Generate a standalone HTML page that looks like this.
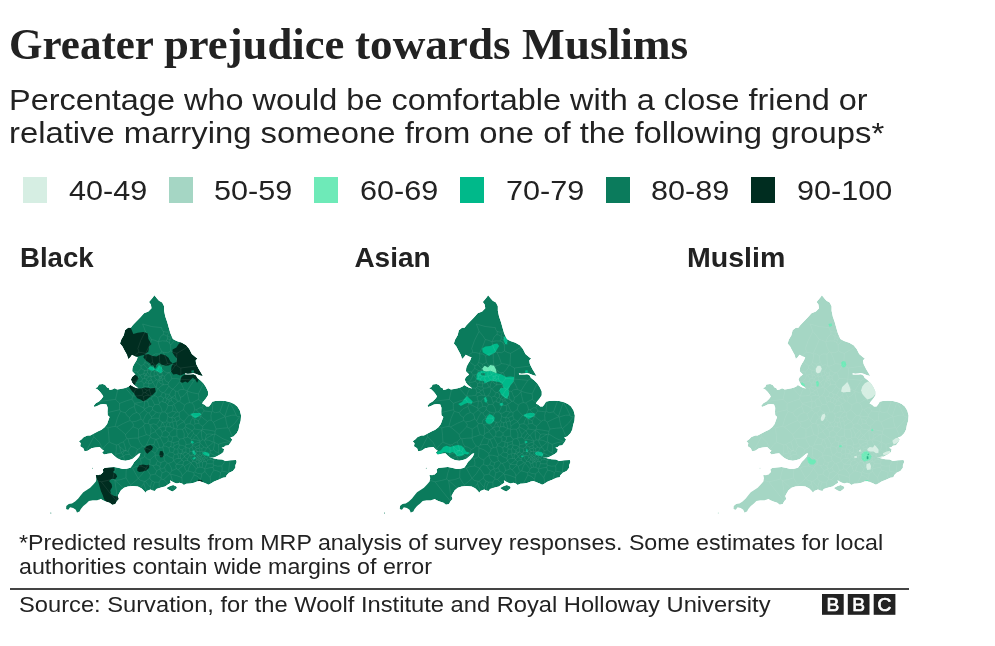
<!DOCTYPE html>
<html lang="en"><head><meta charset="utf-8"><title>Greater prejudice towards Muslims</title>
<style>
html,body{margin:0;padding:0;background:#fff;}
body{width:995px;height:646px;position:relative;overflow:hidden;color:#222222;font-family:"Liberation Sans",Arial,sans-serif;}
.tx{position:absolute;display:block;white-space:nowrap;transform-origin:0 0;margin:0;}
h1,p{margin:0;padding:0;font:inherit;}
.sw{position:absolute;top:176.6px;width:24px;height:26.3px;}
.maps{position:absolute;left:0;top:0;}
.rule{position:absolute;left:9.5px;top:588.45px;width:899.4px;height:1.1px;background:#444;}
.bbc{position:absolute;left:822.3px;top:594.1px;}
</style></head><body>
<h1><span id="t1" class="tx" style="left:8.60px;top:20.24px;font-family:'Liberation Serif','Times New Roman',serif;font-weight:bold;font-size:43.5px;line-height:48.15px;transform:scaleX(0.989)">Greater</span>
<span id="t2" class="tx" style="left:164.30px;top:20.24px;font-family:'Liberation Serif','Times New Roman',serif;font-weight:bold;font-size:43.5px;line-height:48.15px;transform:scaleX(1.027)">prejudice</span>
<span id="t3" class="tx" style="left:354.80px;top:20.24px;font-family:'Liberation Serif','Times New Roman',serif;font-weight:bold;font-size:43.5px;line-height:48.15px;transform:scaleX(1.0385)">towards</span>
<span id="t4" class="tx" style="left:521.90px;top:20.24px;font-family:'Liberation Serif','Times New Roman',serif;font-weight:bold;font-size:43.5px;line-height:48.15px;transform:scaleX(1.042)">Muslims</span>
</h1>
<p><span id="s1" class="tx" style="left:9.00px;top:84.10px;font-family:'Liberation Sans',Arial,sans-serif;font-weight:normal;font-size:29.5px;line-height:32.95px;transform:scaleX(1.1)">Percentage who would be comfortable with a close friend or</span>
<span id="s2" class="tx" style="left:9.00px;top:116.60px;font-family:'Liberation Sans',Arial,sans-serif;font-weight:normal;font-size:29.5px;line-height:32.95px;transform:scaleX(1.112)">relative marrying someone from one of the following groups*</span>
</p>
<p><span id="f1" class="tx" style="left:19.10px;top:530.69px;font-family:'Liberation Sans',Arial,sans-serif;font-weight:normal;font-size:22px;line-height:24.57px;transform:scaleX(1.0553)">*Predicted results from MRP analysis of survey responses. Some estimates for local</span>
<span id="f2" class="tx" style="left:18.60px;top:554.89px;font-family:'Liberation Sans',Arial,sans-serif;font-weight:normal;font-size:22px;line-height:24.57px;transform:scaleX(1.0553)">authorities contain wide margins of error</span>
</p>
<span id="sr" class="tx" style="left:18.60px;top:592.69px;font-family:'Liberation Sans',Arial,sans-serif;font-weight:normal;font-size:22px;line-height:24.57px;transform:scaleX(1.077)">Source: Survation, for the Woolf Institute and Royal Holloway University</span>
<div id="m1" class="tx" style="left:20.40px;top:242.26px;font-family:'Liberation Sans',Arial,sans-serif;font-weight:bold;font-size:28px;line-height:31.28px;transform:scaleX(0.985)">Black</div>
<div id="m2" class="tx" style="left:354.40px;top:242.26px;font-family:'Liberation Sans',Arial,sans-serif;font-weight:bold;font-size:28px;line-height:31.28px;transform:scaleX(1.0)">Asian</div>
<div id="m3" class="tx" style="left:686.60px;top:242.26px;font-family:'Liberation Sans',Arial,sans-serif;font-weight:bold;font-size:28px;line-height:31.28px;transform:scaleX(1.02)">Muslim</div>
<div id="l0" class="tx" style="left:68.60px;top:174.86px;font-family:'Liberation Sans',Arial,sans-serif;font-weight:normal;font-size:28px;line-height:31.28px;transform:scaleX(1.092)">40-49</div>
<div id="l1" class="tx" style="left:214.30px;top:174.86px;font-family:'Liberation Sans',Arial,sans-serif;font-weight:normal;font-size:28px;line-height:31.28px;transform:scaleX(1.092)">50-59</div>
<div id="l2" class="tx" style="left:360.00px;top:174.86px;font-family:'Liberation Sans',Arial,sans-serif;font-weight:normal;font-size:28px;line-height:31.28px;transform:scaleX(1.092)">60-69</div>
<div id="l3" class="tx" style="left:505.70px;top:174.86px;font-family:'Liberation Sans',Arial,sans-serif;font-weight:normal;font-size:28px;line-height:31.28px;transform:scaleX(1.092)">70-79</div>
<div id="l4" class="tx" style="left:651.40px;top:174.86px;font-family:'Liberation Sans',Arial,sans-serif;font-weight:normal;font-size:28px;line-height:31.28px;transform:scaleX(1.092)">80-89</div>
<div id="l5" class="tx" style="left:797.10px;top:174.86px;font-family:'Liberation Sans',Arial,sans-serif;font-weight:normal;font-size:28px;line-height:31.28px;transform:scaleX(1.092)">90-100</div>
<div class="sw" style="left:22.9px;background:#d6eee3"></div>
<div class="sw" style="left:168.6px;background:#a5d6c4"></div>
<div class="sw" style="left:314.3px;background:#6eeab8"></div>
<div class="sw" style="left:460.0px;background:#00b98a"></div>
<div class="sw" style="left:605.7px;background:#0b7b5c"></div>
<div class="sw" style="left:751.4px;background:#002d20"></div>
<svg class="maps" width="995" height="646" viewBox="0 0 995 646"><defs><clipPath id="land"><polygon points="154.4,295.3 157.2,298.8 159.0,300.7 162.2,302.6 164.1,306.3 164.1,310.7 165.3,316.4 167.2,322.0 168.8,327.7 170.4,333.3 172.9,339.0 176.6,340.9 181.7,342.8 186.1,345.3 189.2,349.0 191.7,354.1 195.5,357.2 197.4,358.5 195.5,360.4 196.1,364.1 198.6,369.1 200.9,372.7 202.8,376.1 199.6,375.2 195.9,373.7 193.3,372.9 190.8,373.4 187.7,373.7 185.2,373.3 185.2,374.4 190.8,374.6 193.5,374.2 196.0,375.6 197.1,377.7 200.3,380.2 203.4,383.3 205.9,387.1 208.0,391.5 208.0,395.3 205.9,398.4 203.4,401.6 202.1,403.4 204.6,404.7 206.5,406.6 209.0,406.6 210.9,404.1 212.2,401.8 215.3,400.9 220.4,400.7 225.4,400.9 230.4,402.2 234.2,404.1 237.3,406.6 239.8,410.4 241.1,415.4 240.7,420.7 239.4,425.1 238.6,429.4 236.7,433.2 233.5,436.4 230.4,437.6 232.3,439.5 231.0,442.0 228.5,445.2 225.4,445.8 224.1,447.0 221.6,447.7 224.1,448.9 223.5,452.1 221.0,453.9 217.8,455.8 215.3,457.1 212.8,457.7 209.0,457.1 214.1,458.5 217.8,459.2 222.2,459.6 225.4,460.9 230.4,460.2 236.1,460.0 236.7,462.1 235.4,465.3 235.4,467.8 232.9,470.9 229.1,472.8 226.6,475.3 226.0,477.2 222.9,477.8 218.5,479.7 214.1,481.6 210.9,483.5 208.4,484.7 205.9,483.5 202.8,482.2 199.6,481.0 197.1,481.6 194.0,482.8 190.2,483.5 186.4,483.8 183.9,485.1 182.0,483.5 179.5,482.8 177.0,483.5 174.5,482.8 172.0,481.6 170.1,480.3 170.7,482.8 167.6,484.7 165.1,486.6 161.9,487.2 159.4,487.9 156.3,489.1 155.0,491.0 152.5,490.4 150.5,489.6 146.7,490.9 145.5,492.8 144.2,490.9 141.7,488.4 137.9,486.5 132.9,485.9 127.9,486.5 124.1,487.8 121.0,490.3 119.1,493.4 117.8,495.9 118.8,499.1 116.6,501.6 115.3,504.1 112.2,504.7 109.7,502.8 105.9,501.6 102.8,500.3 100.9,499.1 97.1,500.3 92.7,500.3 88.9,501.0 86.4,503.5 83.3,506.0 80.8,509.1 79.5,511.6 77.0,512.6 75.8,509.7 73.2,507.9 70.1,507.2 68.2,509.7 66.1,509.1 66.3,506.0 68.8,504.1 72.0,503.5 75.1,501.6 78.3,498.4 80.8,495.3 83.3,492.2 86.4,490.3 90.2,487.8 93.3,484.6 95.9,481.5 96.5,478.3 95.9,474.9 98.4,475.2 100.9,474.6 103.4,472.1 102.8,469.5 104.6,467.9 109.0,467.4 114.1,467.0 119.1,467.9 122.9,468.9 126.6,468.7 130.4,467.7 132.3,465.2 134.2,462.0 136.7,459.5 139.2,456.4 140.5,453.2 138.6,453.8 135.4,456.4 132.3,458.9 129.1,460.1 125.4,460.8 121.0,460.1 117.2,458.2 114.1,455.7 111.6,453.2 107.8,453.8 104.0,454.5 102.1,452.6 104.0,450.7 102.1,449.4 99.6,446.9 95.2,447.6 91.5,448.2 87.7,450.7 84.5,451.3 83.3,448.2 80.2,446.3 80.8,443.2 78.9,441.3 81.4,439.4 83.9,436.9 87.7,435.6 90.2,435.4 93.9,433.5 97.7,431.6 101.5,429.7 104.6,427.2 107.1,424.0 108.4,420.3 109.6,417.1 107.7,415.3 107.5,412.1 107.7,407.7 106.5,404.6 103.3,403.9 100.2,404.6 97.7,405.8 94.5,407.1 93.7,405.8 95.8,403.3 98.9,401.4 101.5,398.9 103.3,396.4 102.1,394.5 100.2,392.0 97.7,389.5 95.2,388.2 97.7,387.0 98.9,384.5 102.7,384.1 105.2,385.1 107.1,387.6 109.0,388.2 109.6,390.1 112.1,389.5 114.6,388.2 117.2,389.5 120.3,388.9 124.1,388.2 126.6,387.6 128.8,386.4 130.4,385.1 132.9,386.6 135.4,387.7 138.5,388.5 136.0,386.4 134.1,385.1 132.2,382.6 131.0,379.4 132.2,376.9 135.4,374.4 134.1,373.2 132.2,371.3 132.4,368.5 132.9,366.6 134.5,363.5 136.4,360.4 137.7,357.2 135.2,356.6 132.0,354.7 130.2,357.2 128.3,359.1 127.0,354.7 124.5,350.3 122.6,346.5 120.1,343.4 121.4,339.6 123.9,335.2 125.1,330.2 128.3,327.7 130.8,327.7 132.7,325.2 135.8,322.0 140.2,317.6 144.0,313.2 148.4,311.4 151.5,308.2 150.9,304.4 149.0,301.9 152.8,297.5"/><polygon points="166.3,487.9 170.1,486.0 173.2,485.1 176.4,486.6 177.0,487.9 175.1,489.7 172.6,491.6 170.1,490.4 167.6,489.1"/><rect x="40" y="460" width="60" height="60"/></clipPath></defs>
<g transform="translate(0.00,0)" clip-path="url(#land)"><polygon points="154.4,295.3 157.2,298.8 159.0,300.7 162.2,302.6 164.1,306.3 164.1,310.7 165.3,316.4 167.2,322.0 168.8,327.7 170.4,333.3 172.9,339.0 176.6,340.9 181.7,342.8 186.1,345.3 189.2,349.0 191.7,354.1 195.5,357.2 197.4,358.5 195.5,360.4 196.1,364.1 198.6,369.1 200.9,372.7 202.8,376.1 199.6,375.2 195.9,373.7 193.3,372.9 190.8,373.4 187.7,373.7 185.2,373.3 185.2,374.4 190.8,374.6 193.5,374.2 196.0,375.6 197.1,377.7 200.3,380.2 203.4,383.3 205.9,387.1 208.0,391.5 208.0,395.3 205.9,398.4 203.4,401.6 202.1,403.4 204.6,404.7 206.5,406.6 209.0,406.6 210.9,404.1 212.2,401.8 215.3,400.9 220.4,400.7 225.4,400.9 230.4,402.2 234.2,404.1 237.3,406.6 239.8,410.4 241.1,415.4 240.7,420.7 239.4,425.1 238.6,429.4 236.7,433.2 233.5,436.4 230.4,437.6 232.3,439.5 231.0,442.0 228.5,445.2 225.4,445.8 224.1,447.0 221.6,447.7 224.1,448.9 223.5,452.1 221.0,453.9 217.8,455.8 215.3,457.1 212.8,457.7 209.0,457.1 214.1,458.5 217.8,459.2 222.2,459.6 225.4,460.9 230.4,460.2 236.1,460.0 236.7,462.1 235.4,465.3 235.4,467.8 232.9,470.9 229.1,472.8 226.6,475.3 226.0,477.2 222.9,477.8 218.5,479.7 214.1,481.6 210.9,483.5 208.4,484.7 205.9,483.5 202.8,482.2 199.6,481.0 197.1,481.6 194.0,482.8 190.2,483.5 186.4,483.8 183.9,485.1 182.0,483.5 179.5,482.8 177.0,483.5 174.5,482.8 172.0,481.6 170.1,480.3 170.7,482.8 167.6,484.7 165.1,486.6 161.9,487.2 159.4,487.9 156.3,489.1 155.0,491.0 152.5,490.4 150.5,489.6 146.7,490.9 145.5,492.8 144.2,490.9 141.7,488.4 137.9,486.5 132.9,485.9 127.9,486.5 124.1,487.8 121.0,490.3 119.1,493.4 117.8,495.9 118.8,499.1 116.6,501.6 115.3,504.1 112.2,504.7 109.7,502.8 105.9,501.6 102.8,500.3 100.9,499.1 97.1,500.3 92.7,500.3 88.9,501.0 86.4,503.5 83.3,506.0 80.8,509.1 79.5,511.6 77.0,512.6 75.8,509.7 73.2,507.9 70.1,507.2 68.2,509.7 66.1,509.1 66.3,506.0 68.8,504.1 72.0,503.5 75.1,501.6 78.3,498.4 80.8,495.3 83.3,492.2 86.4,490.3 90.2,487.8 93.3,484.6 95.9,481.5 96.5,478.3 95.9,474.9 98.4,475.2 100.9,474.6 103.4,472.1 102.8,469.5 104.6,467.9 109.0,467.4 114.1,467.0 119.1,467.9 122.9,468.9 126.6,468.7 130.4,467.7 132.3,465.2 134.2,462.0 136.7,459.5 139.2,456.4 140.5,453.2 138.6,453.8 135.4,456.4 132.3,458.9 129.1,460.1 125.4,460.8 121.0,460.1 117.2,458.2 114.1,455.7 111.6,453.2 107.8,453.8 104.0,454.5 102.1,452.6 104.0,450.7 102.1,449.4 99.6,446.9 95.2,447.6 91.5,448.2 87.7,450.7 84.5,451.3 83.3,448.2 80.2,446.3 80.8,443.2 78.9,441.3 81.4,439.4 83.9,436.9 87.7,435.6 90.2,435.4 93.9,433.5 97.7,431.6 101.5,429.7 104.6,427.2 107.1,424.0 108.4,420.3 109.6,417.1 107.7,415.3 107.5,412.1 107.7,407.7 106.5,404.6 103.3,403.9 100.2,404.6 97.7,405.8 94.5,407.1 93.7,405.8 95.8,403.3 98.9,401.4 101.5,398.9 103.3,396.4 102.1,394.5 100.2,392.0 97.7,389.5 95.2,388.2 97.7,387.0 98.9,384.5 102.7,384.1 105.2,385.1 107.1,387.6 109.0,388.2 109.6,390.1 112.1,389.5 114.6,388.2 117.2,389.5 120.3,388.9 124.1,388.2 126.6,387.6 128.8,386.4 130.4,385.1 132.9,386.6 135.4,387.7 138.5,388.5 136.0,386.4 134.1,385.1 132.2,382.6 131.0,379.4 132.2,376.9 135.4,374.4 134.1,373.2 132.2,371.3 132.4,368.5 132.9,366.6 134.5,363.5 136.4,360.4 137.7,357.2 135.2,356.6 132.0,354.7 130.2,357.2 128.3,359.1 127.0,354.7 124.5,350.3 122.6,346.5 120.1,343.4 121.4,339.6 123.9,335.2 125.1,330.2 128.3,327.7 130.8,327.7 132.7,325.2 135.8,322.0 140.2,317.6 144.0,313.2 148.4,311.4 151.5,308.2 150.9,304.4 149.0,301.9 152.8,297.5" fill="#0b7b5c"/><polygon points="166.3,487.9 170.1,486.0 173.2,485.1 176.4,486.6 177.0,487.9 175.1,489.7 172.6,491.6 170.1,490.4 167.6,489.1" fill="#0b7b5c"/><circle cx="92.5" cy="468.3" r="0.45" fill="#0b7b5c"/><circle cx="50.8" cy="513.1" r="0.5" fill="#0b7b5c"/><polygon points="130.8,327.7 133.3,334.0 137.7,332.7 143.4,332.1 147.7,333.3 148.4,339.0 151.5,344.0 149.0,346.5 148.4,351.6 144.6,354.7 137.7,356.6 135.2,356.6 132.0,354.7 130.2,357.2 128.3,359.1 127.0,354.7 124.5,350.3 122.6,346.5 120.1,343.4 121.4,339.6 123.9,335.2 125.1,330.2 128.3,327.7" fill="#002d20"/><polygon points="144.6,354.7 148.4,354.1 152.8,356.0 156.5,356.6 160.9,354.1 165.3,355.3 168.5,357.8 170.4,361.6 172.9,363.5 168.5,365.4 165.1,365.8 161.3,364.5 158.8,362.6 156.3,365.1 155.0,368.3 153.1,365.1 151.5,365.4 149.6,362.9 145.9,360.4 143.3,357.2" fill="#002d20"/><polygon points="180.8,341.9 178.3,344.4 176.4,347.5 172.6,349.4 172.4,352.6 174.5,355.7 177.0,358.8 176.4,362.0 173.2,363.2 171.4,367.0 171.1,371.4 173.2,374.5 176.4,373.9 180.2,375.4 183.9,373.9 185.2,373.3 187.7,373.7 190.8,373.4 193.3,372.9 195.9,373.7 199.6,375.2 202.8,376.1 200.9,372.7 198.6,369.1 196.1,364.1 195.5,360.4 197.4,358.5 195.5,357.2 191.7,354.1 189.2,349.0 186.1,345.3 181.7,342.8" fill="#002d20"/><polygon points="185.2,374.4 190.8,374.6 193.5,374.2 196.0,375.6 197.1,377.7 198.4,380.2 197.1,382.7 195.2,379.6 192.7,377.7 190.2,380.2 187.7,382.7 185.2,381.5 182.7,382.7 180.2,382.1 180.8,378.3 182.7,375.8" fill="#002d20"/><polygon points="132.2,376.9 134.7,374.4 137.3,376.3 138.5,378.8 136.6,381.3 135.4,383.8 134.1,385.1 132.2,382.6 131.0,379.4" fill="#002d20"/><polygon points="128.8,386.4 130.4,385.1 132.9,386.6 135.4,387.7 138.5,388.5 141.7,388.2 145.4,387.4 150.5,388.2 155.0,387.7 155.7,391.5 153.0,394.5 149.8,397.0 146.7,399.5 143.5,401.4 140.4,399.5 137.3,398.3 135.4,395.8 134.1,393.3 132.2,391.4 130.4,388.9" fill="#002d20"/><polygon points="104.6,467.9 109.0,467.4 114.1,467.4 114.7,470.2 112.8,472.1 116.0,473.9 117.2,476.5 115.3,479.0 111.6,479.0 109.0,480.9 111.6,484.0 112.2,487.1 110.3,490.3 110.9,494.0 114.1,495.9 117.8,496.6 118.8,499.1 116.6,501.6 115.3,504.1 112.2,504.7 109.7,502.8 105.9,501.6 104.0,499.1 102.8,495.3 100.9,490.9 99.6,486.5 98.4,482.1 96.5,478.3 95.9,474.9 98.4,475.2 100.9,474.6 103.4,472.1 102.8,469.5" fill="#002d20"/><polygon points="144.2,448.8 146.7,446.3 150.5,445.1 153.0,446.9 151.8,450.1 149.2,452.0 147.4,453.8 145.5,452.0" fill="#002d20"/><polygon points="159.9,451.3 162.4,451.1 163.7,453.8 163.1,457.0 160.6,457.6 159.3,455.1" fill="#002d20"/><polygon points="137.3,468.3 139.2,465.2 143.0,464.5 146.7,465.2 149.2,464.5 149.2,467.7 146.7,470.2 143.0,471.4 139.2,472.1 137.3,470.8" fill="#002d20"/><polygon points="198.0,479.8 201.8,479.9 202.8,482.2 199.6,481.0 198.2,481.3" fill="#002d20"/><polygon points="191.1,370.7 193.6,370.1 194.3,372.6 191.8,373.0" fill="#0b7b5c"/><polygon points="147.9,368.8 150.5,366.3 153.6,367.5 155.5,369.4 157.5,367.0 158.8,365.1 161.9,367.6 162.6,371.4 160.7,373.3 157.5,371.4 154.8,370.0 151.7,370.7" fill="#00b98a"/><polygon points="190.2,414.1 194.0,413.1 200.3,412.9 201.3,414.7 198.4,416.6 195.2,418.5 192.7,416.6" fill="#00b98a"/><polygon points="190.8,441.4 192.7,440.8 194.0,442.4 192.7,443.7 191.2,442.9" fill="#00b98a"/><polygon points="192.1,450.8 194.0,450.2 195.2,452.1 195.9,453.9 194.6,455.2 192.7,453.3" fill="#00b98a"/><polygon points="202.1,452.7 205.3,451.7 208.4,452.7 209.7,454.6 209.0,456.5 206.5,455.8 204.0,454.9" fill="#00b98a"/><polygon points="192.7,457.7 195.2,457.1 195.9,458.3 194.0,459.6 192.5,459.2" fill="#00b98a"/><path d="M74.3 406.1L94.5 402.0L115.5 399.4M88.3 416.1L105.0 413.2L119.7 409.7M115.5 399.4L117.3 401.0L119.5 403.4M119.7 409.7L119.5 406.1L119.5 403.4M115.5 399.4L117.7 389.9L118.6 381.2M120.5 411.2L119.7 409.7M120.5 411.2L117.4 418.2L115.1 426.4M115.1 426.4L111.7 426.9L108.0 427.9M92.2 419.8L100.0 424.1L108.0 427.9M92.2 419.8L93.0 428.6L93.8 436.7M78.1 469.5L85.5 452.5L93.8 436.7M108.0 427.9L108.8 435.2L109.2 442.1M93.8 436.7L99.5 442.6L102.7 449.1M109.2 442.1L106.1 444.7L102.7 449.1M98.6 459.3L100.1 453.7L102.7 449.1M228.6 472.6L229.4 464.5L230.8 456.4M239.7 416.6L234.8 423.2L228.8 428.5M228.8 428.5L231.8 435.8L237.7 442.2M118.6 381.2L126.0 388.8L132.6 396.2M119.5 403.4L126.2 400.9L132.0 399.1M132.6 396.2L132.0 399.1M101.3 481.8L97.4 480.7L94.3 480.3M101.3 481.8L107.9 480.4L112.8 479.1M112.8 479.1L114.0 473.1L116.3 466.5M161.6 327.6L151.8 326.6L142.6 324.0M137.8 348.8L140.7 340.6L145.3 331.3M142.6 324.0L144.2 328.1L145.3 331.3M239.7 416.6L237.1 416.7L236.3 415.2M236.3 415.2L231.7 415.2L225.4 417.0M228.8 428.5L227.8 427.8M227.8 427.8L226.3 422.3L225.4 417.0M227.8 427.8L222.6 428.2L216.2 429.0M225.1 416.7L225.4 417.0M225.1 416.7L218.6 419.5L213.4 422.1M213.4 422.1L214.7 425.2L216.2 429.0M228.6 472.6L225.3 471.7L221.9 471.2M227.4 457.3L224.6 461.9L221.8 465.9M221.8 465.9L222.2 468.6L221.9 471.2M145.5 392.5L147.1 393.8L149.0 395.2M145.5 392.5L143.2 392.9M149.0 395.2L146.0 395.4L143.3 396.6M143.2 392.9L142.1 395.2M143.3 396.6L142.1 395.2M141.9 388.2L140.0 388.1L137.3 387.8M137.3 387.8L134.7 391.0L132.8 396.1M141.9 388.2L142.6 390.8L143.2 392.9M132.8 396.1L137.8 395.9L142.1 395.2M132.6 396.2L132.8 396.1M132.0 399.1L133.6 401.9L134.6 403.3M134.6 403.3L138.5 402.7L144.6 401.1M144.6 401.1L143.7 398.9L143.3 396.6M126.3 467.6L125.1 462.0L123.4 456.2M112.1 460.8L118.1 458.4L123.4 456.2M109.2 442.1L112.3 443.5L116.3 444.9M116.3 444.9L116.3 449.7L115.7 454.5M112.1 460.8L113.7 457.7L115.7 454.5M126.0 477.8L128.5 482.1L130.6 484.9M130.6 484.9L135.2 481.2L138.3 478.4M128.6 466.9L131.5 467.6L132.6 468.2M126.4 467.7L126.0 473.6L126.0 477.8M132.6 468.2L135.1 472.8L138.3 478.4M129.7 417.5L132.4 414.3L136.5 412.5M125.4 412.7L126.8 415.5L129.7 417.5M125.4 412.7L129.1 408.9L134.3 406.4M136.5 412.5L135.1 409.0L134.3 406.4M120.5 411.2L122.6 412.0L125.4 412.7M134.6 403.3L134.7 403.8M134.3 406.4L134.7 403.8M144.7 401.1L144.6 401.1M144.7 401.1L144.3 404.9L143.8 408.1M134.7 403.8L139.2 405.6L143.8 408.1M143.6 425.5L145.0 430.9L146.4 434.7M138.4 429.1L141.4 427.3L143.6 425.5M138.4 429.1L138.5 432.4L138.4 437.4M138.4 437.4L142.7 436.1L146.4 434.7M160.1 437.4L161.3 436.3M160.1 437.4L162.1 441.4L163.6 444.4M163.6 444.4L166.1 442.9L168.0 441.1M168.0 441.1L168.2 438.4L167.2 437.1M167.2 437.1L164.1 437.1L161.3 436.3M133.0 426.8L129.4 430.3L125.5 434.5M133.0 426.8L133.5 424.3L131.8 421.9M130.1 420.5L131.8 421.9M130.1 420.5L123.6 423.3L116.7 427.0M116.7 427.0L121.5 430.9L125.5 434.5M126.9 438.4L128.0 438.8M128.0 438.8L133.1 438.2L138.1 438.0M138.4 437.4L138.1 438.0M138.4 429.1L136.5 428.2L133.0 426.8M126.9 438.4L125.5 435.8L125.5 434.5M115.1 426.4L116.7 427.0M129.7 417.5L129.6 419.1L130.1 420.5M314.4 271.8L246.1 312.6L176.9 353.3M170.8 350.9L174.0 352.6L176.9 353.3M170.8 350.9L170.7 348.2L170.6 345.0M170.6 345.0L176.9 338.0L183.3 331.7M219.8 411.8L223.6 401.5L228.3 389.4M219.8 411.8L222.0 414.4L224.9 416.1M224.9 416.1L226.8 410.1L229.5 402.4M228.3 389.4L227.6 395.6L229.5 402.4M236.3 415.2L233.2 408.7L229.5 402.4M225.1 416.7L224.9 416.1M219.8 411.8L215.2 412.8L212.3 411.1M212.7 400.3L212.7 405.8L212.3 411.1M117.7 377.1L125.8 380.1L134.8 382.1M137.3 387.8L136.8 385.9L135.3 382.5M134.8 382.1L135.3 382.5M137.9 372.0L137.7 373.0L139.4 374.7M111.9 367.8L124.3 369.6L137.9 372.0M134.8 382.1L137.8 378.8L139.4 374.7M137.8 348.8L138.7 350.3L138.8 352.3M151.6 339.6L149.0 346.3L145.7 353.5M145.3 331.3L148.9 335.5L151.6 339.6M138.8 352.3L142.1 352.6L145.7 353.5M138.8 352.3L134.3 355.6L130.5 358.9M137.9 372.0L140.6 368.9L140.9 368.4M143.8 373.4L142.9 374.1M142.9 374.1L140.1 375.0M139.4 374.7L140.1 375.0M143.8 373.4L144.5 370.5M140.9 368.4L143.0 369.5L144.5 370.5M130.5 358.9L135.4 361.7L141.2 365.8M140.9 368.4L141.2 365.8M237.7 442.2L234.5 442.3L230.6 441.7M216.2 429.0L215.2 431.3M215.2 431.3L214.9 433.9M230.6 441.7L223.0 438.8L214.9 433.9M148.6 386.6L147.0 387.0L143.8 386.2M148.6 386.6L149.9 388.2M147.1 390.4L149.3 389.7M147.1 390.4L144.5 388.8L142.8 387.5M142.8 387.5L143.8 386.2M149.3 389.7L149.9 388.2M151.3 395.7L149.0 395.2M151.3 395.7L150.2 392.8L149.3 389.7M145.5 392.5L147.1 390.4M141.9 388.2L142.8 387.5M135.3 382.5L138.7 382.1L141.6 381.3M140.1 375.0L141.8 377.9L142.7 378.8M142.7 378.8L141.6 381.3M143.8 386.2L143.8 383.9M143.8 383.9L143.5 382.8L141.6 381.3M155.5 387.1L152.9 388.0L149.9 388.2M148.6 386.6L149.0 383.8M155.5 387.1L154.5 385.4L153.0 382.5M153.0 382.5L152.8 382.4M152.8 382.4L151.2 383.6L149.0 383.8M128.6 466.9L131.0 461.2L132.3 457.2M141.0 466.0L136.2 466.5L132.6 468.2M132.3 457.2L133.9 456.6L135.3 455.9M141.0 466.0L141.2 462.2L140.1 458.4M140.1 458.4L137.9 456.8L135.3 455.9M128.0 438.8L129.2 443.3L131.2 446.5M131.2 446.5L134.7 447.3L137.4 449.4M138.1 438.0L139.8 442.2L142.4 446.0M137.4 449.4L140.1 448.5L142.4 446.0M126.9 438.4L125.0 440.2L123.5 441.8M116.3 444.9L118.5 444.6M118.5 444.6L120.2 443.2L123.5 441.8M131.2 446.5L129.3 448.2L128.2 451.6M135.3 455.9L136.5 452.5L137.4 449.4M132.3 457.2L130.5 455.5L129.3 454.5M129.3 454.5L128.9 452.5L128.2 451.6M123.4 456.2L123.4 456.1M129.3 454.5L125.5 454.7L123.4 456.1M129.7 491.7L122.0 486.8L114.9 480.4M114.8 480.4L114.9 480.4M114.8 480.4L116.4 491.1L117.1 501.6M130.6 484.9L129.8 488.1L129.7 491.7M126.0 477.8L120.5 479.7L114.9 480.4M112.8 479.1L114.8 480.4M101.3 481.8L108.9 491.6L117.1 501.6M220.8 362.9L200.8 365.4L180.8 368.0M176.9 353.3L176.5 359.0L176.3 365.0M180.8 368.0L178.1 366.6L176.3 365.0M131.8 421.9L136.3 421.2L141.0 419.1M136.5 412.5L138.0 413.1L139.4 414.1M141.0 419.1L140.5 416.3L139.4 414.1M143.6 425.5L145.0 423.3M145.0 423.3L143.2 422.1L143.1 420.7M141.0 419.1L143.1 420.7M176.3 493.4L173.6 484.5L170.5 474.1M176.3 493.4L170.7 486.6L163.8 479.5M170.5 474.1L170.1 473.6M163.8 479.5L167.1 476.4L170.1 473.6M157.7 460.9L158.9 462.0L161.0 462.5M157.7 460.9L155.7 458.1L155.2 455.4M155.2 455.4L155.3 455.2M155.3 455.2L158.9 455.2L164.1 456.6M164.1 456.6L164.2 459.3L164.9 460.9M164.9 460.9L163.4 461.4L161.0 462.5M159.5 466.2L160.5 465.1L161.0 462.5M156.0 464.7L156.8 465.0L159.5 466.2M156.0 464.7L156.5 462.7L157.7 460.9M150.5 434.4L149.8 435.6M150.5 434.4L152.1 433.0L155.4 431.7M149.8 435.6L150.4 437.0M150.4 437.0L152.2 438.4L155.5 439.2M155.4 431.7L158.3 435.5L160.1 437.4M160.1 437.4L158.9 438.7L156.2 439.1M156.2 439.1L155.5 439.2M146.4 445.1L144.6 446.6M146.4 445.1L150.7 444.4L153.8 444.6M153.8 444.6L155.1 445.8L157.4 448.8M144.6 446.6L145.2 447.9M145.2 447.9L150.0 449.7L155.0 453.2M155.0 453.2L156.8 451.4L157.4 448.8M150.4 437.0L148.6 440.1L146.4 445.1M146.4 434.7L148.5 435.2L149.8 435.6M142.4 446.0L144.6 446.6M155.5 439.2L154.7 441.6L153.8 444.6M159.5 447.6L157.4 448.8M159.5 447.6L158.5 444.3L156.2 439.1M140.1 458.4L143.1 457.9L144.6 456.4M144.6 456.4L145.1 452.3L145.2 447.9M155.3 455.2L155.0 453.2M150.0 459.8L152.8 457.1L155.2 455.4M150.0 459.8L147.4 458.9L144.6 456.4M168.2 422.1L170.2 422.5M170.2 422.5L169.6 424.4L170.6 427.1M168.2 422.1L166.6 424.2L166.7 426.9M166.7 426.9L169.0 426.6L170.6 427.1M161.3 436.3L162.2 434.3L162.2 432.8M155.7 430.8L157.2 429.2L158.9 428.7M155.4 431.7L155.7 430.8M160.1 437.4L160.1 437.4M162.2 432.8L160.9 429.5L158.9 428.7M169.6 343.4L169.3 341.4L170.4 339.7M169.6 343.4L168.2 341.7L166.1 341.1M170.4 339.7L168.2 339.0L167.4 339.0M166.1 341.1L167.4 339.0M170.6 345.0L169.6 343.4M172.5 336.8L171.1 336.9L170.4 339.7M172.5 336.8L169.4 336.9L167.6 336.7M167.6 336.7L167.4 339.0M163.0 334.7L164.9 334.9L167.2 336.3M163.0 334.7L163.6 333.2L163.2 331.4M167.2 336.3L168.1 333.8L169.8 331.9M163.2 331.4L165.9 332.1L169.8 331.9M158.4 341.5L160.5 336.7L163.0 334.7M158.4 341.5L162.5 340.9L166.1 341.1M167.6 336.7L167.2 336.3M158.1 341.7L158.4 341.5M161.6 327.6L161.9 329.3L163.2 331.4M151.6 339.6L154.2 340.1L158.1 341.7M189.3 327.7L180.0 329.4L169.8 331.9M215.2 431.3L208.0 430.0L202.0 429.3M213.2 434.4L214.8 434.0M213.2 434.4L209.2 433.9L206.7 434.4M214.9 433.9L214.8 434.0M202.0 429.3L201.5 430.2M206.7 434.4L204.0 431.8L201.5 430.2M213.2 434.4L209.1 436.7L205.3 439.3M206.7 434.4L205.8 436.8L205.3 439.3M213.5 442.1L214.0 441.9M214.8 434.0L213.6 438.1L214.0 441.9M213.5 442.1L208.9 440.3L204.9 439.8M205.3 439.3L204.9 439.8M213.4 422.1L211.3 420.4M212.3 411.1L211.7 411.9M211.7 411.9L210.9 415.6L211.3 420.4M202.0 429.3L203.0 427.9L202.6 426.1M202.6 426.1L205.6 423.8L207.4 421.3M211.3 420.4L209.7 420.1L207.4 421.3M198.4 393.9L192.1 392.7L187.2 391.2M198.4 393.9L203.6 383.0L210.7 371.9M210.7 371.9L202.3 375.6L194.1 380.3M194.1 380.3L190.5 385.6L187.1 391.0M187.1 391.0L187.2 391.2M180.3 379.1L180.9 373.0L180.8 368.0M180.3 379.1L187.5 379.7L194.1 380.3M212.7 400.3L207.4 401.0L202.6 401.7M204.1 411.0L208.0 411.4L211.7 411.9M204.1 411.0L203.7 409.8L202.1 407.9M202.1 407.9L203.3 405.2L202.6 401.7M198.4 393.9L198.9 397.4L198.5 399.4M202.6 401.7L200.5 401.0L198.5 399.4M170.8 350.9L167.6 352.8L163.2 352.2M176.3 365.0L175.3 365.3M175.3 365.3L171.9 364.1L167.6 363.6M167.6 363.6L165.7 357.8L163.2 352.2M158.1 341.7L159.6 347.3L162.0 352.0M163.2 352.2L162.0 352.0M141.2 365.8L142.9 364.9L143.8 364.2M143.8 364.2L144.8 362.6M145.7 353.5L145.9 353.8M144.8 362.6L146.1 357.2L145.9 353.8M159.5 354.1L160.5 352.7L162.0 352.0M159.5 354.1L155.5 353.9L151.9 355.8M145.9 353.8L149.0 354.0L151.9 355.8M213.9 470.1L216.8 470.8L220.7 472.4M220.7 472.4L218.4 485.0L214.9 497.9M213.9 470.1L211.6 473.8L210.2 477.4M210.2 477.4L211.7 487.9L214.9 497.9M221.9 471.2L220.7 472.4M204.9 439.8L204.3 440.0M213.5 442.1L210.9 444.5L207.7 446.8M207.7 446.8L206.2 444.2L204.3 440.0M201.4 430.2L201.4 430.2M201.4 430.2L201.6 435.8L202.4 439.9M201.5 430.2L201.4 430.2M204.3 440.0L202.4 439.9M196.4 435.2L199.0 432.6L201.4 430.2M196.4 435.2L198.1 438.2L200.3 441.2M202.4 439.9L200.3 441.2M218.4 444.3L216.3 443.4L214.4 442.3M218.4 444.3L218.8 448.6L218.4 452.7M214.4 442.3L214.2 445.8L213.3 449.4M218.4 452.7L215.4 451.7L213.3 449.4M230.6 441.7L224.0 442.5L218.4 444.3M214.0 441.9L214.4 442.3M219.6 455.4L218.4 452.7M207.7 446.8L207.5 447.5M210.2 450.3L209.4 448.4L207.5 447.5M210.2 450.3L211.9 450.9L213.3 449.4M217.2 456.5L214.1 455.2L210.2 453.2M210.2 453.2L210.2 450.3M145.3 382.9L146.4 380.8L146.8 379.8M145.3 382.9L147.9 383.1L148.9 383.7M148.9 383.7L148.4 381.2M146.8 379.8L148.4 381.2M146.6 379.1L144.4 378.5M142.7 378.8L144.4 378.5M143.8 383.9L145.3 382.9M146.6 379.1L146.8 379.8M149.0 383.8L148.9 383.7M151.7 380.0L152.8 382.4M151.7 380.0L149.2 380.4L148.4 381.2M148.9 376.9L147.8 377.5L146.6 379.1M150.8 376.3L148.9 376.9M150.8 376.3L151.1 376.3M151.1 376.3L151.6 376.5M151.7 380.0L150.7 378.7L151.6 376.5M150.8 376.3L149.0 374.6L147.6 372.2M151.1 376.3L150.5 373.7L151.3 371.2M147.5 370.1L147.6 370.0M147.6 372.2L147.5 370.1M151.3 371.2L149.4 370.0L147.6 370.0M143.8 364.2L145.3 366.1L147.9 368.8M144.5 370.5L146.4 370.7L147.5 370.1M147.9 368.8L147.6 370.0M185.4 446.6L185.9 444.6M185.4 446.6L182.5 445.4L179.3 445.0M179.7 439.0L178.6 441.3M179.7 439.0L181.4 438.8L183.4 438.4M179.3 445.0L178.9 443.8M178.6 441.3L178.9 443.8M185.9 444.6L185.8 442.3L183.4 438.4M147.4 401.3L144.7 401.1M147.4 401.3L149.1 398.7L151.3 398.9M151.3 395.7L152.2 396.5M151.3 398.9L152.2 396.5M155.5 387.1L156.2 387.4M156.2 387.4L157.5 388.6M152.2 396.5L154.1 395.8M157.5 388.6L156.4 392.8L154.1 395.8M184.2 421.4L184.2 421.6M184.2 421.4L182.6 420.5L180.4 419.1M177.2 426.1L180.4 423.5L184.2 421.6M177.2 426.1L176.4 423.9L176.8 421.4M176.8 421.4L179.0 420.2L180.4 419.1M143.8 408.1L144.4 409.1M139.4 414.1L141.9 411.9L144.4 410.0M144.4 409.1L144.4 410.0M147.4 401.3L148.5 404.1L149.0 406.4M144.4 409.1L147.4 407.4L149.0 406.4M143.1 420.7L145.3 415.8L147.6 412.7M144.4 410.0L147.0 412.1L147.6 412.7M154.5 404.7L152.9 401.2L151.3 398.9M154.5 404.7L153.7 406.4L152.4 407.5M149.0 406.4L151.9 406.4L152.4 407.5M205.0 471.5L202.5 473.0L201.7 474.0M205.0 471.5L207.7 475.1L210.2 477.4M215.6 520.1L207.5 499.0L200.4 479.1M200.4 479.1L201.2 477.3L201.7 474.0M178.9 443.8L176.1 444.7L173.7 446.5M178.6 441.3L175.1 442.3L173.3 442.6M173.3 442.6L174.1 444.9L173.7 446.5M184.8 427.8L185.4 426.9M185.4 426.9L189.0 428.8L192.0 430.6M184.8 427.8L186.0 430.7L188.1 434.5M192.0 430.6L190.2 432.7L188.1 434.5M184.0 437.9L186.2 437.7L187.4 437.0M184.0 437.9L184.3 433.8L182.5 429.3M182.5 429.3L184.8 427.8M188.1 434.5L187.4 437.0M176.8 429.6L176.3 429.1M176.8 429.6L176.8 432.2L177.0 436.0M176.3 429.1L174.2 428.7M177.0 436.0L174.5 436.4L172.7 436.8M174.2 428.7L174.0 428.7M174.0 428.7L171.6 431.1L169.2 433.0M172.7 436.8L171.3 436.8L169.4 435.0M169.4 435.0L169.2 433.0M177.2 426.1L177.2 427.7L176.3 429.1M185.8 424.5L185.0 423.7L184.2 421.6M182.5 429.3L179.4 429.1L176.8 429.6M185.4 426.9L185.8 424.5M179.7 439.0L177.7 437.5L177.0 436.0M184.0 437.9L183.4 438.4M171.1 441.8L171.2 441.8M171.1 441.8L172.7 439.4L172.7 436.8M171.2 441.8L173.3 442.6M165.6 430.5L165.4 430.5L165.9 427.3M166.7 426.9L165.9 427.3M165.6 430.5L166.7 431.2L169.2 433.0M170.6 427.1L172.6 427.9L174.0 428.7M168.0 441.1L170.6 441.6L171.1 441.8M167.2 437.1L167.5 436.1L169.4 435.0M162.2 432.8L163.0 431.4L165.6 430.5M165.1 426.8L162.6 426.7L159.3 427.7M165.1 426.8L163.8 424.7L162.4 422.1M159.3 427.7L160.8 425.9L162.4 422.1M162.4 422.1L162.4 422.1M158.9 428.7L159.0 427.9M159.0 427.9L159.3 427.7M165.9 427.3L165.1 426.8M166.9 420.3L168.2 422.1M166.9 420.3L165.7 422.3L162.4 422.1M159.6 420.0L157.8 423.1L156.2 424.5M159.6 420.0L159.1 418.3M159.1 418.3L155.6 418.1L151.7 418.4M156.2 424.5L153.3 423.8L150.5 424.7M151.7 418.4L149.1 419.9L148.4 423.4M148.4 423.4L149.8 424.5M149.8 424.5L150.5 424.7M162.4 422.1L160.7 421.4L159.6 420.0M159.0 427.9L157.5 426.0L156.2 424.5M155.7 430.8L152.9 428.0L150.5 424.7M145.0 423.3L146.9 423.7L148.4 423.4M150.5 434.4L151.0 429.8L149.8 424.5M146.9 375.5L144.9 376.0M146.9 375.5L146.2 373.9M146.2 373.9L145.7 373.9M145.7 373.9L144.9 375.9M144.9 375.9L144.9 376.0M144.4 378.5L144.9 376.0M148.9 376.9L146.9 375.5M147.6 372.2L146.2 373.9M143.8 373.4L145.7 373.9M142.9 374.1L144.9 375.9M213.9 470.1L213.0 467.3M205.0 471.5L204.8 469.0M204.8 469.0L209.1 467.9L213.0 467.3M221.8 465.9L217.7 466.2L213.7 465.2M213.7 465.2L213.0 467.3M153.0 382.5L154.9 380.5L156.7 379.7M151.6 376.5L154.4 376.0M156.7 379.7L154.8 377.9L154.8 376.1M154.4 376.0L154.8 376.1M156.2 387.4L156.9 383.9L158.3 380.8M156.7 379.7L158.0 380.3M158.0 380.3L158.3 380.8M144.8 362.6L146.7 363.1L148.7 364.3M151.9 355.8L152.1 358.6L152.7 362.2M152.7 362.2L150.7 363.5L148.7 364.3M147.9 368.8L149.4 367.3M148.7 364.3L149.0 365.1L149.4 367.3M124.1 450.5L122.4 451.6L121.3 452.4M124.1 450.5L126.1 450.6M126.1 450.6L126.4 450.8M126.4 450.8L124.3 450.9L122.5 454.2M122.5 454.2L121.2 453.0M121.2 453.0L121.3 452.4M119.7 446.7L121.5 448.1L124.1 450.5M119.7 446.7L120.5 450.4L121.3 452.4M118.5 444.6L119.7 446.7M123.5 441.8L124.8 445.7L126.1 450.6M128.2 451.6L126.4 450.8M123.4 456.1L122.5 454.2M115.7 454.5L118.8 453.4L121.2 453.0M162.7 379.0L161.7 378.2M161.7 378.2L159.8 379.0L159.7 380.5M162.7 379.0L162.2 380.2M162.2 380.2L159.7 380.5M157.5 388.6L158.4 388.6M158.7 380.9L160.2 383.3L163.4 384.8M158.3 380.8L158.7 380.9M158.4 388.6L160.7 386.3L163.4 384.8M162.2 380.2L162.8 382.5L163.4 384.8M159.7 380.5L158.7 380.9M163.4 384.8L163.4 384.8M187.1 391.0L184.9 389.9L183.8 389.4M180.3 379.1L180.2 379.1M180.2 379.1L180.0 381.4M183.8 389.4L182.1 385.3L180.0 381.4M171.7 378.7L170.7 380.2L168.6 382.5M171.7 378.7L171.1 376.1L169.5 372.7M168.6 382.5L165.4 380.7L164.7 378.6M169.0 372.7L166.4 374.2L164.7 376.4M169.0 372.7L169.5 372.7M164.7 376.4L164.7 378.6M180.2 379.1L175.7 378.6L171.7 378.7M175.3 365.3L172.5 369.4L169.5 372.7M168.1 384.6L166.1 384.6L163.4 384.8M168.1 384.6L168.6 382.5M162.7 379.0L164.7 378.6M154.1 395.8L156.0 396.1L157.8 397.6M157.8 397.6L158.8 396.8L160.6 396.3M158.4 388.6L160.3 391.5L162.6 392.6M160.6 396.3L161.5 394.4L162.6 392.6M183.8 389.4L180.0 389.7L177.9 391.4M180.0 381.4L176.5 385.4L173.1 389.0M177.9 391.4L175.7 391.1M173.1 389.0L174.0 389.9L175.7 391.1M188.9 415.3L186.3 412.9L183.5 409.6M183.5 409.6L181.5 410.9L179.2 412.4M184.2 421.4L186.7 418.0L188.9 415.3M180.4 419.1L179.3 417.0L179.2 415.6M179.2 415.6L179.3 414.1L179.2 412.4M175.7 421.2L175.9 419.9L174.2 418.0M175.7 421.2L174.0 421.3L172.7 422.3M172.7 422.3L172.1 422.0M172.1 422.0L172.3 419.4L171.5 417.3M174.2 418.0L172.0 417.2M171.5 417.3L172.0 417.2M179.2 415.6L176.1 417.0L174.2 418.0M176.8 421.4L175.7 421.2M174.2 428.7L173.2 424.7L172.7 422.3M170.2 422.5L172.1 422.0M167.9 416.0L169.2 417.4L171.5 417.3M167.9 416.0L167.6 417.7L166.9 420.3M151.5 416.7L153.5 415.5L156.4 412.0M151.5 416.7L150.0 414.9L149.2 412.9M149.2 412.9L151.5 411.0L152.6 409.2M156.4 412.0L153.8 410.8L152.6 409.2M151.7 418.4L151.5 416.7M161.2 412.8L158.3 412.9L156.4 412.0M161.2 412.8L159.6 415.3L159.1 418.3M147.6 412.7L149.2 412.9M152.4 407.5L152.6 409.2M178.7 447.9L179.3 445.0M178.7 447.9L180.4 449.4L182.1 449.9M185.4 446.6L185.6 447.1M185.6 447.1L184.2 448.3L182.1 449.9M194.7 471.9L197.7 473.3L201.7 474.0M194.7 471.9L193.9 472.7M200.4 479.1L197.8 476.5L194.1 475.0M194.1 475.0L193.9 472.7M194.1 475.0L188.9 484.7L184.2 495.1M170.5 474.1L176.2 475.5L181.8 477.6M184.2 495.1L182.6 487.0L181.8 477.6M159.2 482.1L157.4 482.2L154.7 482.1M159.2 482.1L159.2 510.5L159.8 539.8M154.7 482.1L153.1 486.3L152.2 492.5M161.6 479.2L160.3 479.9L159.2 482.1M163.8 479.5L161.6 479.2M130.2 498.9L137.2 491.2L143.9 483.6M143.9 483.6L149.7 500.8L155.4 517.7M162.1 472.8L160.9 471.0L159.9 469.0M159.9 469.0L158.6 469.6L156.7 470.8M160.9 478.0L158.3 476.3L155.2 474.1M160.9 478.0L161.5 475.0L162.1 472.8M156.7 470.8L155.8 473.0L155.2 474.1M159.9 469.0L160.3 468.1M159.5 466.2L160.3 468.1M156.0 464.7L155.0 465.2L152.8 465.5M156.7 470.8L154.8 468.4L152.8 465.5M150.0 459.8L150.2 461.9L149.5 464.6M149.5 464.6L151.2 465.0L152.8 465.5M152.2 492.5L151.0 489.6L150.4 487.1M154.7 482.1L152.5 481.0M150.4 487.1L151.3 483.0L152.5 481.0M164.4 467.5L165.5 470.1L166.3 471.1M164.4 467.5L166.0 465.0L167.1 463.1M168.7 463.3L171.1 467.4L171.8 470.4M168.7 463.3L167.1 463.1M166.3 471.1L168.0 472.2L170.0 473.4M171.8 470.4L170.8 472.3L170.0 473.4M162.1 472.8L164.4 472.0L166.3 471.1M160.3 468.1L161.9 469.1L164.4 467.5M164.9 460.9L166.0 461.4L167.1 463.1M176.5 464.1L174.9 462.2L173.7 460.7M176.6 464.3L176.5 464.1M176.4 468.6L175.6 465.8L176.6 464.3M176.4 468.6L174.0 469.9L171.8 470.4M173.7 460.7L173.7 460.7M173.7 460.7L171.7 462.3L168.7 463.3M161.6 479.2L160.9 478.0M170.1 473.6L170.0 473.4M181.8 477.6L182.2 475.8M178.3 469.9L181.0 472.4L182.2 475.8M176.4 468.6L178.3 469.9M171.2 441.8L171.1 445.8L169.6 447.2M173.7 446.5L173.4 447.5M173.4 447.5L170.6 446.6L169.6 447.2M194.1 428.9L199.0 429.7L201.4 430.2M194.1 428.9L192.3 430.6M196.4 435.2L195.9 435.3M192.3 430.6L193.2 432.2L193.5 433.4M195.9 435.3L194.1 434.0L193.5 433.4M192.0 430.6L192.3 430.6M187.4 437.0L189.1 437.7L190.1 438.5M193.5 433.4L191.9 435.8L190.1 438.5M196.1 409.9L194.7 409.7M196.1 409.9L198.7 412.2L201.1 415.1M194.7 409.7L193.6 412.1L192.0 415.4M201.1 415.1L200.9 416.2M192.0 415.4L192.4 415.9M192.4 415.9L196.6 416.5L200.8 416.2M200.9 416.2L200.8 416.2M202.1 407.9L200.0 407.7L196.1 409.9M198.5 399.4L194.3 401.5L191.8 402.9M191.8 402.9L193.9 405.4L194.7 409.7M204.1 411.0L202.7 412.6L201.1 415.1M207.4 421.3L203.9 418.8L200.9 416.2M184.7 404.9L187.1 403.2L189.6 402.6M184.7 404.9L182.3 403.6L179.3 401.2M179.3 401.2L180.4 399.9L180.5 397.5M180.5 397.5L184.0 395.6L187.1 391.8M187.1 391.8L188.1 396.7L189.6 402.6M188.9 415.3L190.2 415.4L192.0 415.4M183.5 409.6L183.9 407.7L184.7 404.9M191.8 402.9L189.6 402.6M187.2 391.2L187.1 391.8M177.9 391.4L179.1 394.7L180.5 397.5M185.8 424.5L188.4 423.8L189.9 423.9M192.4 415.9L192.9 417.7M192.9 417.7L191.2 420.2L189.9 423.9M194.1 428.9L194.6 427.3L193.3 425.5M193.3 425.5L191.9 424.3L189.9 423.9M204.8 469.0L204.5 468.6M204.5 468.6L205.6 466.7L206.7 463.7M213.7 465.2L213.3 463.9M206.7 463.7L210.2 463.8L213.3 463.9M210.2 453.2L208.6 454.4M217.2 456.5L216.3 459.0L213.6 460.5M208.6 454.4L208.6 454.7M208.6 454.7L209.5 457.2L211.0 459.6M211.0 459.6L213.6 460.5M213.6 460.5L213.1 463.1L213.3 463.9M207.5 447.5L206.2 448.0M208.6 454.4L206.6 454.1M206.2 448.0L205.9 449.8L204.5 451.2M204.5 451.2L204.8 452.1L206.6 454.1M200.2 441.4L200.0 442.2M200.2 441.4L196.8 440.0L192.7 439.3M200.0 442.2L196.9 442.7L192.5 445.0M192.7 439.3L191.5 439.6M191.5 439.6L191.3 442.6M191.3 442.6L192.5 445.0M206.2 448.0L204.3 447.1M204.3 447.1L202.1 445.3L200.1 443.3M200.3 441.2L200.2 441.4M200.1 443.3L200.0 442.2M195.9 435.3L194.4 437.0L192.7 439.3M190.1 438.5L191.5 439.6M185.9 444.6L189.7 444.0L191.3 442.6M211.0 459.6L208.6 459.8L208.0 459.9M208.6 454.7L207.7 456.7L206.9 458.2M206.9 458.2L208.0 459.9M206.7 463.7L206.3 461.9M208.0 459.9L206.3 461.9M151.3 371.2L153.4 370.1M149.4 367.3L150.4 366.8L153.6 366.9M153.4 370.1L153.4 369.0L153.6 366.9M154.4 376.0L154.0 373.6L154.5 371.3M153.4 370.1L154.5 371.3M152.7 362.2L153.7 363.8L154.7 365.5M154.7 365.5L153.6 366.9M159.5 354.1L159.5 359.8L160.3 365.7M154.7 365.5L158.0 364.6L160.3 365.7M165.5 394.0L164.1 392.6M165.5 394.0L167.9 394.2L169.3 394.6M164.1 392.6L166.6 389.4L168.9 385.9M169.3 394.6L170.7 391.9L172.8 389.0M168.9 385.9L170.4 388.0L172.8 389.0M160.6 396.3L163.1 397.5L163.5 398.4M164.9 397.6L163.5 398.4M164.9 397.6L165.9 396.7L165.5 394.0M162.6 392.6L164.1 392.6M167.0 398.6L168.3 396.6L169.5 395.1M164.9 397.6L167.0 398.6M169.5 395.1L169.3 394.6M168.1 384.6L168.9 385.9M173.1 389.0L172.8 389.0M171.7 397.3L173.4 396.4L175.2 394.8M171.7 397.3L175.1 398.9L177.8 401.5M175.2 394.8L175.9 398.5L178.7 401.2M177.8 401.5L178.7 401.2M169.5 395.1L171.4 397.3M171.4 397.3L171.7 397.3M175.7 391.1L175.3 392.9L175.2 394.8M171.4 400.7L171.2 397.9M171.4 397.3L171.2 397.9M174.5 403.9L173.2 402.1L171.4 400.7M174.5 403.9L176.3 402.9L177.8 401.5M179.3 401.2L178.7 401.2M174.1 404.4L172.2 405.3M174.1 404.4L175.7 408.3L177.7 412.0M172.2 405.3L173.1 407.9L172.3 411.3M172.3 411.3L174.0 411.4L176.2 412.2M177.7 412.0L176.2 412.2M174.5 403.9L174.1 404.4M179.2 412.4L177.7 412.0M166.3 413.1L168.8 413.2L172.3 411.3M167.9 416.0L167.2 414.0L166.3 413.1M172.0 417.2L174.0 414.8L176.2 412.2M172.2 405.3L169.9 405.7L168.0 405.5M166.3 413.1L164.8 412.0M168.0 405.5L166.7 409.2L164.8 412.0M157.8 397.6L158.7 400.9L159.7 403.2M163.5 398.4L162.9 400.2L163.0 402.0M163.0 402.0L161.5 400.9L159.7 403.2M154.5 404.7L156.7 404.4L159.0 404.3M161.2 412.8L162.2 412.1M162.2 412.1L161.3 408.1L159.0 404.3M162.2 412.1L164.8 412.0M159.0 404.3L159.7 403.2M199.9 467.2L202.0 467.4M204.5 468.6L202.0 467.4M194.7 471.9L195.6 470.9L196.2 468.8M199.9 467.2L197.6 467.9M197.6 467.9L196.2 468.8M176.6 464.3L180.7 464.8L183.0 464.5M178.3 469.9L181.0 467.2L183.3 465.3M183.0 464.5L183.3 465.3M150.6 475.1L148.2 471.5L146.1 468.3M150.6 475.1L150.2 475.8L149.7 478.1M149.7 478.1L147.5 479.8L145.3 481.2M146.0 468.3L142.6 473.6L138.3 478.4M146.0 468.3L146.1 468.3M138.3 478.4L140.6 480.4L144.3 481.4M144.3 481.4L145.3 481.2M155.2 474.1L153.8 474.4L150.6 475.1M149.5 464.6L147.7 465.7L146.1 468.3M152.5 481.0L150.4 479.6L149.7 478.1M150.4 487.1L148.1 484.8L145.3 481.2M141.0 466.0L143.9 467.3L146.0 468.3M138.3 478.4L138.3 478.4M143.9 483.6L144.3 481.4M178.7 447.9L177.8 448.7M173.4 447.5L174.5 448.8M177.8 448.7L176.6 449.2L174.5 448.8M177.5 453.8L175.6 454.3L174.4 454.3M178.9 458.5L178.6 457.2L177.5 453.8M173.7 460.7L176.0 458.7L178.9 458.5M173.7 460.7L173.2 458.3M173.2 458.3L173.9 455.5L174.4 454.3M177.8 448.7L178.0 450.9L178.3 453.2M174.5 448.8L173.8 451.2L173.2 452.5M177.5 453.8L178.3 453.2M174.4 454.3L173.2 452.5M168.8 447.7L169.3 449.6L169.7 451.9M168.8 447.7L165.6 446.1L163.4 446.1M163.4 446.1L162.7 446.8M162.7 446.8L163.7 451.3L165.1 455.2M169.7 451.9L169.0 452.7L166.7 454.8M165.1 455.2L166.7 454.8M173.2 452.5L171.6 452.6L169.7 451.9M169.6 447.2L168.8 447.7M163.6 444.4L163.4 446.1M159.5 447.6L161.4 447.8L162.7 446.8M164.1 456.6L165.1 455.2M173.2 458.3L169.0 456.6L166.7 454.8M194.9 423.9L194.7 422.1L193.9 418.9M194.9 423.9L196.8 423.7L199.0 423.3M193.9 418.9L196.3 419.6L198.4 420.7M199.0 423.3L198.4 420.7M192.9 417.7L193.9 418.9M193.3 425.5L194.9 423.9M202.6 426.1L200.7 425.3L199.0 423.3M200.8 416.2L200.2 418.1L198.4 420.7M199.0 463.2L201.2 461.6M199.0 463.2L199.2 464.6L199.9 467.2M202.0 467.4L202.5 465.7L202.4 462.4M201.2 461.6L201.3 461.6M202.4 462.4L201.3 461.6M204.5 451.2L203.3 451.6M203.3 451.6L202.2 453.3L202.7 455.1M206.6 454.1L204.7 456.0M204.7 456.0L202.7 455.1M158.0 380.3L159.5 378.0M161.7 378.2L161.5 377.9M161.5 377.9L159.5 378.0M169.0 372.7L166.2 372.6L163.2 370.4M167.6 363.6L165.1 365.1L161.4 366.2M163.2 370.4L161.6 368.5L161.4 366.2M160.3 365.7L160.3 365.7M161.4 366.2L160.3 365.7M165.4 402.7L167.5 404.5M165.4 402.7L165.9 401.7L167.1 398.9M167.5 404.5L168.5 402.7L169.1 401.3M169.1 401.3L168.7 399.6M167.1 398.9L168.7 399.6M168.0 405.5L167.5 404.5M163.0 402.0L165.4 402.7M167.0 398.6L167.1 398.9M171.4 400.7L169.1 401.3M171.2 397.9L168.7 399.6M184.5 466.4L187.4 464.5L190.5 462.5M184.5 466.4L185.4 469.8L186.9 471.1M187.9 471.0L186.9 471.1M187.9 471.0L189.3 466.8L191.3 463.3M191.3 463.3L191.2 462.8M191.2 462.8L190.5 462.5M182.2 475.8L184.2 473.5L186.9 471.1M183.3 465.3L184.5 466.4M193.9 472.7L191.1 471.8L187.9 471.0M196.2 468.8L193.6 465.6L191.3 463.3M187.5 458.8L187.6 460.5M187.5 458.8L185.2 457.8L184.4 456.3M187.6 460.5L186.1 460.2L183.5 461.6M184.4 456.3L183.7 457.7L181.7 459.3M183.5 461.6L182.0 459.9M182.0 459.9L181.7 459.3M190.5 462.5L188.8 461.1L187.6 460.5M183.0 464.5L183.5 461.6M176.5 464.1L178.9 462.5L182.0 459.9M178.9 458.5L180.8 458.7M180.8 458.7L181.7 459.3M183.1 454.3L183.3 453.4L185.4 452.3M183.1 454.3L180.9 453.6M180.9 453.6L180.8 453.5M180.8 453.5L182.0 453.4L182.2 450.7M182.2 450.7L183.7 452.1L185.4 452.3M188.0 453.6L185.8 452.2M185.8 452.2L185.4 452.3M184.4 456.2L186.9 454.4L188.0 453.6M184.4 456.2L183.1 454.3M184.4 456.2L184.4 456.3M180.8 458.7L180.2 456.2L180.9 453.6M178.3 453.2L180.8 453.5M182.1 449.9L182.2 450.7M185.6 447.1L185.8 447.3M185.8 447.3L186.0 450.2L185.8 452.2M202.0 451.4L200.0 451.6M202.0 451.4L201.8 448.4M201.8 448.4L199.4 447.7M199.7 451.4L200.0 451.6M199.7 451.4L199.8 449.6L199.1 448.3M199.4 447.7L199.1 448.3M200.0 453.9L200.0 451.6M201.5 455.5L200.0 453.9M203.3 451.6L202.0 451.4M201.5 455.5L202.7 455.1M204.3 447.1L201.8 448.4M199.4 445.1L200.1 443.3M199.4 445.1L199.4 447.7M206.9 458.2L205.3 457.7M204.7 456.0L204.7 456.9M205.3 457.7L204.7 456.9M161.7 376.8L159.1 376.2M161.7 376.8L162.4 375.3M162.4 375.3L162.3 375.1M162.3 375.1L160.4 376.0L159.0 376.1M159.0 376.1L159.1 376.2M161.5 377.9L161.7 376.8M159.5 378.0L159.1 376.2M164.7 376.4L162.4 375.3M161.8 372.7L163.2 370.4M161.8 372.7L162.3 375.1M154.8 376.1L155.6 375.6L157.7 374.9M157.7 374.9L159.0 376.1M156.7 371.1L157.6 370.5M156.7 371.1L157.0 372.9L157.7 374.8M157.6 370.5L158.3 371.4L159.5 373.3M157.7 374.8L159.5 373.3M154.5 371.3L156.7 371.1M160.3 365.7L159.1 367.5L157.6 370.5M157.7 374.9L157.7 374.8M161.8 372.7L159.5 373.3M187.5 458.8L188.7 457.2L189.6 455.0M192.6 461.6L192.6 460.7M192.6 461.6L191.2 462.8M192.6 460.7L190.9 458.8L191.0 455.4M189.6 455.0L191.0 455.4M188.0 453.6L188.8 453.7M189.6 455.0L188.8 453.7M197.6 467.9L197.3 466.3L195.8 462.0M199.0 463.2L198.8 463.0M198.8 463.0L197.2 463.6L195.8 462.0M192.6 461.6L195.3 461.5M195.8 462.0L195.3 461.5M206.3 461.9L205.6 461.6M205.3 457.7L204.6 459.3M204.6 459.3L205.6 461.6M202.4 462.4L203.8 461.7M205.6 461.6L203.8 461.7M201.3 460.1L202.9 459.7M201.3 460.1L201.0 459.6M201.0 459.6L202.6 457.9M202.9 459.7L203.2 459.3M203.2 459.3L202.7 457.9M202.7 457.9L202.6 457.9M201.3 461.6L201.3 460.1M203.8 461.7L202.9 459.7M204.6 459.3L203.2 459.3M204.7 456.9L202.7 457.9M201.5 455.5L201.1 456.6M201.1 456.6L202.6 457.9M201.0 459.6L200.4 459.2M201.1 456.6L201.1 456.7M200.4 459.2L201.1 456.7M185.8 447.3L187.0 447.9L189.5 448.4M188.8 453.7L189.8 451.3M189.5 448.4L189.8 451.3M191.0 455.4L191.5 455.3M191.5 455.3L192.9 454.0L194.0 451.5M194.0 451.5L194.0 451.5M189.8 451.3L192.3 451.7L194.0 451.5M194.2 455.7L194.7 457.2M194.2 455.7L195.6 454.5M195.6 454.5L196.8 456.3M196.8 456.3L196.0 457.6M196.0 457.6L194.7 457.2M192.6 460.7L194.5 458.9L194.7 457.2M191.5 455.3L194.2 455.7M194.0 451.5L196.0 453.7M196.0 453.7L195.6 454.5M196.7 460.0L195.3 461.5M196.6 458.2L196.7 459.7M196.7 460.0L196.7 459.7M196.6 458.2L196.0 457.6M197.8 460.1L199.0 460.9M197.8 460.1L199.4 458.9M200.3 459.2L199.4 458.9M200.3 459.2L199.2 460.8M199.2 460.8L199.0 460.9M198.8 463.0L199.0 460.9M196.7 460.0L197.8 460.1M196.7 459.7L198.9 458.0M198.9 458.0L199.4 458.9M201.2 461.6L199.2 460.8M200.4 459.2L200.3 459.2M198.3 457.1L198.7 457.4M198.3 457.1L197.9 456.4M198.7 457.4L199.9 456.8M199.9 456.8L198.7 454.9M197.9 456.4L198.3 455.0M198.7 454.9L198.3 455.0M196.6 458.2L198.3 457.1M198.9 458.0L198.7 457.4M196.8 456.3L197.9 456.4M201.1 456.7L199.9 456.8M200.0 453.9L198.7 454.9M196.0 453.7L196.0 453.6M196.0 453.6L198.3 455.0M198.4 451.7L196.5 451.5L196.0 453.6M199.7 451.4L198.4 451.7M192.5 445.8L194.4 446.2L195.3 447.0M192.5 445.8L191.9 446.8M191.9 446.8L192.8 449.3L194.2 450.8M195.3 447.0L196.3 448.8M194.2 450.8L195.8 449.8M196.3 448.8L195.8 449.8M192.5 445.0L192.5 445.8M199.4 445.1L197.2 446.3L195.3 447.0M189.5 448.4L191.9 446.8M194.0 451.5L194.2 450.8M199.1 448.3L196.3 448.8M198.4 451.7L196.6 450.8L195.8 449.8" fill="none" stroke="#fff" stroke-opacity="0.2" stroke-width="0.4"/></g>
<g transform="translate(333.75,0)" clip-path="url(#land)"><polygon points="154.4,295.3 157.2,298.8 159.0,300.7 162.2,302.6 164.1,306.3 164.1,310.7 165.3,316.4 167.2,322.0 168.8,327.7 170.4,333.3 172.9,339.0 176.6,340.9 181.7,342.8 186.1,345.3 189.2,349.0 191.7,354.1 195.5,357.2 197.4,358.5 195.5,360.4 196.1,364.1 198.6,369.1 200.9,372.7 202.8,376.1 199.6,375.2 195.9,373.7 193.3,372.9 190.8,373.4 187.7,373.7 185.2,373.3 185.2,374.4 190.8,374.6 193.5,374.2 196.0,375.6 197.1,377.7 200.3,380.2 203.4,383.3 205.9,387.1 208.0,391.5 208.0,395.3 205.9,398.4 203.4,401.6 202.1,403.4 204.6,404.7 206.5,406.6 209.0,406.6 210.9,404.1 212.2,401.8 215.3,400.9 220.4,400.7 225.4,400.9 230.4,402.2 234.2,404.1 237.3,406.6 239.8,410.4 241.1,415.4 240.7,420.7 239.4,425.1 238.6,429.4 236.7,433.2 233.5,436.4 230.4,437.6 232.3,439.5 231.0,442.0 228.5,445.2 225.4,445.8 224.1,447.0 221.6,447.7 224.1,448.9 223.5,452.1 221.0,453.9 217.8,455.8 215.3,457.1 212.8,457.7 209.0,457.1 214.1,458.5 217.8,459.2 222.2,459.6 225.4,460.9 230.4,460.2 236.1,460.0 236.7,462.1 235.4,465.3 235.4,467.8 232.9,470.9 229.1,472.8 226.6,475.3 226.0,477.2 222.9,477.8 218.5,479.7 214.1,481.6 210.9,483.5 208.4,484.7 205.9,483.5 202.8,482.2 199.6,481.0 197.1,481.6 194.0,482.8 190.2,483.5 186.4,483.8 183.9,485.1 182.0,483.5 179.5,482.8 177.0,483.5 174.5,482.8 172.0,481.6 170.1,480.3 170.7,482.8 167.6,484.7 165.1,486.6 161.9,487.2 159.4,487.9 156.3,489.1 155.0,491.0 152.5,490.4 150.5,489.6 146.7,490.9 145.5,492.8 144.2,490.9 141.7,488.4 137.9,486.5 132.9,485.9 127.9,486.5 124.1,487.8 121.0,490.3 119.1,493.4 117.8,495.9 118.8,499.1 116.6,501.6 115.3,504.1 112.2,504.7 109.7,502.8 105.9,501.6 102.8,500.3 100.9,499.1 97.1,500.3 92.7,500.3 88.9,501.0 86.4,503.5 83.3,506.0 80.8,509.1 79.5,511.6 77.0,512.6 75.8,509.7 73.2,507.9 70.1,507.2 68.2,509.7 66.1,509.1 66.3,506.0 68.8,504.1 72.0,503.5 75.1,501.6 78.3,498.4 80.8,495.3 83.3,492.2 86.4,490.3 90.2,487.8 93.3,484.6 95.9,481.5 96.5,478.3 95.9,474.9 98.4,475.2 100.9,474.6 103.4,472.1 102.8,469.5 104.6,467.9 109.0,467.4 114.1,467.0 119.1,467.9 122.9,468.9 126.6,468.7 130.4,467.7 132.3,465.2 134.2,462.0 136.7,459.5 139.2,456.4 140.5,453.2 138.6,453.8 135.4,456.4 132.3,458.9 129.1,460.1 125.4,460.8 121.0,460.1 117.2,458.2 114.1,455.7 111.6,453.2 107.8,453.8 104.0,454.5 102.1,452.6 104.0,450.7 102.1,449.4 99.6,446.9 95.2,447.6 91.5,448.2 87.7,450.7 84.5,451.3 83.3,448.2 80.2,446.3 80.8,443.2 78.9,441.3 81.4,439.4 83.9,436.9 87.7,435.6 90.2,435.4 93.9,433.5 97.7,431.6 101.5,429.7 104.6,427.2 107.1,424.0 108.4,420.3 109.6,417.1 107.7,415.3 107.5,412.1 107.7,407.7 106.5,404.6 103.3,403.9 100.2,404.6 97.7,405.8 94.5,407.1 93.7,405.8 95.8,403.3 98.9,401.4 101.5,398.9 103.3,396.4 102.1,394.5 100.2,392.0 97.7,389.5 95.2,388.2 97.7,387.0 98.9,384.5 102.7,384.1 105.2,385.1 107.1,387.6 109.0,388.2 109.6,390.1 112.1,389.5 114.6,388.2 117.2,389.5 120.3,388.9 124.1,388.2 126.6,387.6 128.8,386.4 130.4,385.1 132.9,386.6 135.4,387.7 138.5,388.5 136.0,386.4 134.1,385.1 132.2,382.6 131.0,379.4 132.2,376.9 135.4,374.4 134.1,373.2 132.2,371.3 132.4,368.5 132.9,366.6 134.5,363.5 136.4,360.4 137.7,357.2 135.2,356.6 132.0,354.7 130.2,357.2 128.3,359.1 127.0,354.7 124.5,350.3 122.6,346.5 120.1,343.4 121.4,339.6 123.9,335.2 125.1,330.2 128.3,327.7 130.8,327.7 132.7,325.2 135.8,322.0 140.2,317.6 144.0,313.2 148.4,311.4 151.5,308.2 150.9,304.4 149.0,301.9 152.8,297.5" fill="#0b7b5c"/><polygon points="166.3,487.9 170.1,486.0 173.2,485.1 176.4,486.6 177.0,487.9 175.1,489.7 172.6,491.6 170.1,490.4 167.6,489.1" fill="#0b7b5c"/><circle cx="92.5" cy="468.3" r="0.45" fill="#0b7b5c"/><circle cx="50.8" cy="513.1" r="0.5" fill="#0b7b5c"/><polygon points="148.4,348.4 151.6,346.5 156.6,345.9 160.3,344.0 163.5,343.4 165.4,345.9 163.5,349.0 161.6,352.2 158.5,354.1 155.3,356.0 151.6,354.1 149.0,352.2" fill="#00b98a"/><polygon points="169.8,337.1 172.9,336.5 173.5,340.3 173.5,344.6 171.4,344.0 170.1,341.0" fill="#00b98a"/><polygon points="142.8,375.1 144.6,372.0 148.4,370.7 152.8,371.4 156.6,370.7 162.9,373.2 167.9,374.5 172.3,377.0 176.7,376.4 180.4,377.0 179.8,381.4 176.7,385.2 174.8,389.6 175.4,394.0 173.5,399.0 171.0,397.7 167.9,395.2 165.4,390.8 166.6,388.3 169.8,387.7 168.5,383.9 165.4,382.0 161.6,381.4 157.8,380.8 154.1,382.0 150.9,383.3 149.7,380.8 145.9,380.8 142.8,379.5" fill="#00b98a"/><polygon points="124.5,404.0 128.3,402.1 130.8,398.4 133.3,395.9 135.8,398.4 139.0,401.5 137.7,404.0 134.0,402.8 130.8,404.0 127.1,405.9" fill="#00b98a"/><polygon points="150.3,397.7 152.2,397.1 153.4,400.3 152.8,402.8 150.9,402.1" fill="#00b98a"/><polygon points="166.0,403.4 168.5,402.8 169.8,404.6 167.9,405.9 166.0,405.3" fill="#00b98a"/><polygon points="151.6,420.4 153.4,416.6 155.9,414.1 158.5,415.3 161.0,417.8 160.3,421.0 157.8,423.5 155.3,424.1 152.8,422.9" fill="#00b98a"/><polygon points="189.9,414.7 193.0,413.4 196.8,412.8 201.2,413.4 200.5,416.0 197.4,417.8 194.9,419.1 192.4,417.2 190.2,416.3" fill="#00b98a"/><polygon points="191.1,370.7 193.6,370.1 194.3,372.6 191.8,373.0" fill="#00b98a"/><polygon points="102.1,453.3 104.0,451.4 107.1,450.2 109.6,447.0 112.8,445.8 116.6,447.0 120.3,445.8 124.1,445.1 127.9,445.8 130.4,448.3 132.3,451.4 136.0,452.7 134.1,454.5 131.0,453.9 128.5,455.8 125.3,456.4 122.8,455.8 120.9,453.3 118.4,452.0 116.6,453.3 114.0,452.7 110.3,452.0 106.5,453.9 103.4,454.9" fill="#00b98a"/><polygon points="200.9,452.7 204.0,451.4 207.8,452.1 209.7,453.9 208.4,456.5 205.3,455.8 202.2,454.9" fill="#00b98a"/><polygon points="190.8,441.4 193.3,440.8 193.7,442.9 191.5,443.3" fill="#00b98a"/><polygon points="192.1,449.5 193.7,449.2 194.0,452.1 192.5,452.1" fill="#00b98a"/><polygon points="187.1,455.8 189.6,455.5 190.0,457.1 187.5,457.3" fill="#00b98a"/><polygon points="148.4,368.8 150.9,365.7 154.1,367.6 156.6,365.1 160.3,365.7 162.2,369.5 162.9,373.2 159.7,372.0 156.6,370.7 152.8,371.4 149.7,370.7" fill="#6eeab8"/><polygon points="147.2,373.2 151.6,373.2 150.9,375.8 147.8,375.1" fill="#0b7b5c"/><path d="M74.3 406.1L94.5 402.0L115.5 399.4M88.3 416.1L105.0 413.2L119.7 409.7M115.5 399.4L117.3 401.0L119.5 403.4M119.7 409.7L119.5 406.1L119.5 403.4M115.5 399.4L117.7 389.9L118.6 381.2M120.5 411.2L119.7 409.7M120.5 411.2L117.4 418.2L115.1 426.4M115.1 426.4L111.7 426.9L108.0 427.9M92.2 419.8L100.0 424.1L108.0 427.9M92.2 419.8L93.0 428.6L93.8 436.7M78.1 469.5L85.5 452.5L93.8 436.7M108.0 427.9L108.8 435.2L109.2 442.1M93.8 436.7L99.5 442.6L102.7 449.1M109.2 442.1L106.1 444.7L102.7 449.1M98.6 459.3L100.1 453.7L102.7 449.1M228.6 472.6L229.4 464.5L230.8 456.4M239.7 416.6L234.8 423.2L228.8 428.5M228.8 428.5L231.8 435.8L237.7 442.2M118.6 381.2L126.0 388.8L132.6 396.2M119.5 403.4L126.2 400.9L132.0 399.1M132.6 396.2L132.0 399.1M101.3 481.8L97.4 480.7L94.3 480.3M101.3 481.8L107.9 480.4L112.8 479.1M112.8 479.1L114.0 473.1L116.3 466.5M161.6 327.6L151.8 326.6L142.6 324.0M137.8 348.8L140.7 340.6L145.3 331.3M142.6 324.0L144.2 328.1L145.3 331.3M239.7 416.6L237.1 416.7L236.3 415.2M236.3 415.2L231.7 415.2L225.4 417.0M228.8 428.5L227.8 427.8M227.8 427.8L226.3 422.3L225.4 417.0M227.8 427.8L222.6 428.2L216.2 429.0M225.1 416.7L225.4 417.0M225.1 416.7L218.6 419.5L213.4 422.1M213.4 422.1L214.7 425.2L216.2 429.0M228.6 472.6L225.3 471.7L221.9 471.2M227.4 457.3L224.6 461.9L221.8 465.9M221.8 465.9L222.2 468.6L221.9 471.2M145.5 392.5L147.1 393.8L149.0 395.2M145.5 392.5L143.2 392.9M149.0 395.2L146.0 395.4L143.3 396.6M143.2 392.9L142.1 395.2M143.3 396.6L142.1 395.2M141.9 388.2L140.0 388.1L137.3 387.8M137.3 387.8L134.7 391.0L132.8 396.1M141.9 388.2L142.6 390.8L143.2 392.9M132.8 396.1L137.8 395.9L142.1 395.2M132.6 396.2L132.8 396.1M132.0 399.1L133.6 401.9L134.6 403.3M134.6 403.3L138.5 402.7L144.6 401.1M144.6 401.1L143.7 398.9L143.3 396.6M126.3 467.6L125.1 462.0L123.4 456.2M112.1 460.8L118.1 458.4L123.4 456.2M109.2 442.1L112.3 443.5L116.3 444.9M116.3 444.9L116.3 449.7L115.7 454.5M112.1 460.8L113.7 457.7L115.7 454.5M126.0 477.8L128.5 482.1L130.6 484.9M130.6 484.9L135.2 481.2L138.3 478.4M128.6 466.9L131.5 467.6L132.6 468.2M126.4 467.7L126.0 473.6L126.0 477.8M132.6 468.2L135.1 472.8L138.3 478.4M129.7 417.5L132.4 414.3L136.5 412.5M125.4 412.7L126.8 415.5L129.7 417.5M125.4 412.7L129.1 408.9L134.3 406.4M136.5 412.5L135.1 409.0L134.3 406.4M120.5 411.2L122.6 412.0L125.4 412.7M134.6 403.3L134.7 403.8M134.3 406.4L134.7 403.8M144.7 401.1L144.6 401.1M144.7 401.1L144.3 404.9L143.8 408.1M134.7 403.8L139.2 405.6L143.8 408.1M143.6 425.5L145.0 430.9L146.4 434.7M138.4 429.1L141.4 427.3L143.6 425.5M138.4 429.1L138.5 432.4L138.4 437.4M138.4 437.4L142.7 436.1L146.4 434.7M160.1 437.4L161.3 436.3M160.1 437.4L162.1 441.4L163.6 444.4M163.6 444.4L166.1 442.9L168.0 441.1M168.0 441.1L168.2 438.4L167.2 437.1M167.2 437.1L164.1 437.1L161.3 436.3M133.0 426.8L129.4 430.3L125.5 434.5M133.0 426.8L133.5 424.3L131.8 421.9M130.1 420.5L131.8 421.9M130.1 420.5L123.6 423.3L116.7 427.0M116.7 427.0L121.5 430.9L125.5 434.5M126.9 438.4L128.0 438.8M128.0 438.8L133.1 438.2L138.1 438.0M138.4 437.4L138.1 438.0M138.4 429.1L136.5 428.2L133.0 426.8M126.9 438.4L125.5 435.8L125.5 434.5M115.1 426.4L116.7 427.0M129.7 417.5L129.6 419.1L130.1 420.5M314.4 271.8L246.1 312.6L176.9 353.3M170.8 350.9L174.0 352.6L176.9 353.3M170.8 350.9L170.7 348.2L170.6 345.0M170.6 345.0L176.9 338.0L183.3 331.7M219.8 411.8L223.6 401.5L228.3 389.4M219.8 411.8L222.0 414.4L224.9 416.1M224.9 416.1L226.8 410.1L229.5 402.4M228.3 389.4L227.6 395.6L229.5 402.4M236.3 415.2L233.2 408.7L229.5 402.4M225.1 416.7L224.9 416.1M219.8 411.8L215.2 412.8L212.3 411.1M212.7 400.3L212.7 405.8L212.3 411.1M117.7 377.1L125.8 380.1L134.8 382.1M137.3 387.8L136.8 385.9L135.3 382.5M134.8 382.1L135.3 382.5M137.9 372.0L137.7 373.0L139.4 374.7M111.9 367.8L124.3 369.6L137.9 372.0M134.8 382.1L137.8 378.8L139.4 374.7M137.8 348.8L138.7 350.3L138.8 352.3M151.6 339.6L149.0 346.3L145.7 353.5M145.3 331.3L148.9 335.5L151.6 339.6M138.8 352.3L142.1 352.6L145.7 353.5M138.8 352.3L134.3 355.6L130.5 358.9M137.9 372.0L140.6 368.9L140.9 368.4M143.8 373.4L142.9 374.1M142.9 374.1L140.1 375.0M139.4 374.7L140.1 375.0M143.8 373.4L144.5 370.5M140.9 368.4L143.0 369.5L144.5 370.5M130.5 358.9L135.4 361.7L141.2 365.8M140.9 368.4L141.2 365.8M237.7 442.2L234.5 442.3L230.6 441.7M216.2 429.0L215.2 431.3M215.2 431.3L214.9 433.9M230.6 441.7L223.0 438.8L214.9 433.9M148.6 386.6L147.0 387.0L143.8 386.2M148.6 386.6L149.9 388.2M147.1 390.4L149.3 389.7M147.1 390.4L144.5 388.8L142.8 387.5M142.8 387.5L143.8 386.2M149.3 389.7L149.9 388.2M151.3 395.7L149.0 395.2M151.3 395.7L150.2 392.8L149.3 389.7M145.5 392.5L147.1 390.4M141.9 388.2L142.8 387.5M135.3 382.5L138.7 382.1L141.6 381.3M140.1 375.0L141.8 377.9L142.7 378.8M142.7 378.8L141.6 381.3M143.8 386.2L143.8 383.9M143.8 383.9L143.5 382.8L141.6 381.3M155.5 387.1L152.9 388.0L149.9 388.2M148.6 386.6L149.0 383.8M155.5 387.1L154.5 385.4L153.0 382.5M153.0 382.5L152.8 382.4M152.8 382.4L151.2 383.6L149.0 383.8M128.6 466.9L131.0 461.2L132.3 457.2M141.0 466.0L136.2 466.5L132.6 468.2M132.3 457.2L133.9 456.6L135.3 455.9M141.0 466.0L141.2 462.2L140.1 458.4M140.1 458.4L137.9 456.8L135.3 455.9M128.0 438.8L129.2 443.3L131.2 446.5M131.2 446.5L134.7 447.3L137.4 449.4M138.1 438.0L139.8 442.2L142.4 446.0M137.4 449.4L140.1 448.5L142.4 446.0M126.9 438.4L125.0 440.2L123.5 441.8M116.3 444.9L118.5 444.6M118.5 444.6L120.2 443.2L123.5 441.8M131.2 446.5L129.3 448.2L128.2 451.6M135.3 455.9L136.5 452.5L137.4 449.4M132.3 457.2L130.5 455.5L129.3 454.5M129.3 454.5L128.9 452.5L128.2 451.6M123.4 456.2L123.4 456.1M129.3 454.5L125.5 454.7L123.4 456.1M129.7 491.7L122.0 486.8L114.9 480.4M114.8 480.4L114.9 480.4M114.8 480.4L116.4 491.1L117.1 501.6M130.6 484.9L129.8 488.1L129.7 491.7M126.0 477.8L120.5 479.7L114.9 480.4M112.8 479.1L114.8 480.4M101.3 481.8L108.9 491.6L117.1 501.6M220.8 362.9L200.8 365.4L180.8 368.0M176.9 353.3L176.5 359.0L176.3 365.0M180.8 368.0L178.1 366.6L176.3 365.0M131.8 421.9L136.3 421.2L141.0 419.1M136.5 412.5L138.0 413.1L139.4 414.1M141.0 419.1L140.5 416.3L139.4 414.1M143.6 425.5L145.0 423.3M145.0 423.3L143.2 422.1L143.1 420.7M141.0 419.1L143.1 420.7M176.3 493.4L173.6 484.5L170.5 474.1M176.3 493.4L170.7 486.6L163.8 479.5M170.5 474.1L170.1 473.6M163.8 479.5L167.1 476.4L170.1 473.6M157.7 460.9L158.9 462.0L161.0 462.5M157.7 460.9L155.7 458.1L155.2 455.4M155.2 455.4L155.3 455.2M155.3 455.2L158.9 455.2L164.1 456.6M164.1 456.6L164.2 459.3L164.9 460.9M164.9 460.9L163.4 461.4L161.0 462.5M159.5 466.2L160.5 465.1L161.0 462.5M156.0 464.7L156.8 465.0L159.5 466.2M156.0 464.7L156.5 462.7L157.7 460.9M150.5 434.4L149.8 435.6M150.5 434.4L152.1 433.0L155.4 431.7M149.8 435.6L150.4 437.0M150.4 437.0L152.2 438.4L155.5 439.2M155.4 431.7L158.3 435.5L160.1 437.4M160.1 437.4L158.9 438.7L156.2 439.1M156.2 439.1L155.5 439.2M146.4 445.1L144.6 446.6M146.4 445.1L150.7 444.4L153.8 444.6M153.8 444.6L155.1 445.8L157.4 448.8M144.6 446.6L145.2 447.9M145.2 447.9L150.0 449.7L155.0 453.2M155.0 453.2L156.8 451.4L157.4 448.8M150.4 437.0L148.6 440.1L146.4 445.1M146.4 434.7L148.5 435.2L149.8 435.6M142.4 446.0L144.6 446.6M155.5 439.2L154.7 441.6L153.8 444.6M159.5 447.6L157.4 448.8M159.5 447.6L158.5 444.3L156.2 439.1M140.1 458.4L143.1 457.9L144.6 456.4M144.6 456.4L145.1 452.3L145.2 447.9M155.3 455.2L155.0 453.2M150.0 459.8L152.8 457.1L155.2 455.4M150.0 459.8L147.4 458.9L144.6 456.4M168.2 422.1L170.2 422.5M170.2 422.5L169.6 424.4L170.6 427.1M168.2 422.1L166.6 424.2L166.7 426.9M166.7 426.9L169.0 426.6L170.6 427.1M161.3 436.3L162.2 434.3L162.2 432.8M155.7 430.8L157.2 429.2L158.9 428.7M155.4 431.7L155.7 430.8M160.1 437.4L160.1 437.4M162.2 432.8L160.9 429.5L158.9 428.7M169.6 343.4L169.3 341.4L170.4 339.7M169.6 343.4L168.2 341.7L166.1 341.1M170.4 339.7L168.2 339.0L167.4 339.0M166.1 341.1L167.4 339.0M170.6 345.0L169.6 343.4M172.5 336.8L171.1 336.9L170.4 339.7M172.5 336.8L169.4 336.9L167.6 336.7M167.6 336.7L167.4 339.0M163.0 334.7L164.9 334.9L167.2 336.3M163.0 334.7L163.6 333.2L163.2 331.4M167.2 336.3L168.1 333.8L169.8 331.9M163.2 331.4L165.9 332.1L169.8 331.9M158.4 341.5L160.5 336.7L163.0 334.7M158.4 341.5L162.5 340.9L166.1 341.1M167.6 336.7L167.2 336.3M158.1 341.7L158.4 341.5M161.6 327.6L161.9 329.3L163.2 331.4M151.6 339.6L154.2 340.1L158.1 341.7M189.3 327.7L180.0 329.4L169.8 331.9M215.2 431.3L208.0 430.0L202.0 429.3M213.2 434.4L214.8 434.0M213.2 434.4L209.2 433.9L206.7 434.4M214.9 433.9L214.8 434.0M202.0 429.3L201.5 430.2M206.7 434.4L204.0 431.8L201.5 430.2M213.2 434.4L209.1 436.7L205.3 439.3M206.7 434.4L205.8 436.8L205.3 439.3M213.5 442.1L214.0 441.9M214.8 434.0L213.6 438.1L214.0 441.9M213.5 442.1L208.9 440.3L204.9 439.8M205.3 439.3L204.9 439.8M213.4 422.1L211.3 420.4M212.3 411.1L211.7 411.9M211.7 411.9L210.9 415.6L211.3 420.4M202.0 429.3L203.0 427.9L202.6 426.1M202.6 426.1L205.6 423.8L207.4 421.3M211.3 420.4L209.7 420.1L207.4 421.3M198.4 393.9L192.1 392.7L187.2 391.2M198.4 393.9L203.6 383.0L210.7 371.9M210.7 371.9L202.3 375.6L194.1 380.3M194.1 380.3L190.5 385.6L187.1 391.0M187.1 391.0L187.2 391.2M180.3 379.1L180.9 373.0L180.8 368.0M180.3 379.1L187.5 379.7L194.1 380.3M212.7 400.3L207.4 401.0L202.6 401.7M204.1 411.0L208.0 411.4L211.7 411.9M204.1 411.0L203.7 409.8L202.1 407.9M202.1 407.9L203.3 405.2L202.6 401.7M198.4 393.9L198.9 397.4L198.5 399.4M202.6 401.7L200.5 401.0L198.5 399.4M170.8 350.9L167.6 352.8L163.2 352.2M176.3 365.0L175.3 365.3M175.3 365.3L171.9 364.1L167.6 363.6M167.6 363.6L165.7 357.8L163.2 352.2M158.1 341.7L159.6 347.3L162.0 352.0M163.2 352.2L162.0 352.0M141.2 365.8L142.9 364.9L143.8 364.2M143.8 364.2L144.8 362.6M145.7 353.5L145.9 353.8M144.8 362.6L146.1 357.2L145.9 353.8M159.5 354.1L160.5 352.7L162.0 352.0M159.5 354.1L155.5 353.9L151.9 355.8M145.9 353.8L149.0 354.0L151.9 355.8M213.9 470.1L216.8 470.8L220.7 472.4M220.7 472.4L218.4 485.0L214.9 497.9M213.9 470.1L211.6 473.8L210.2 477.4M210.2 477.4L211.7 487.9L214.9 497.9M221.9 471.2L220.7 472.4M204.9 439.8L204.3 440.0M213.5 442.1L210.9 444.5L207.7 446.8M207.7 446.8L206.2 444.2L204.3 440.0M201.4 430.2L201.4 430.2M201.4 430.2L201.6 435.8L202.4 439.9M201.5 430.2L201.4 430.2M204.3 440.0L202.4 439.9M196.4 435.2L199.0 432.6L201.4 430.2M196.4 435.2L198.1 438.2L200.3 441.2M202.4 439.9L200.3 441.2M218.4 444.3L216.3 443.4L214.4 442.3M218.4 444.3L218.8 448.6L218.4 452.7M214.4 442.3L214.2 445.8L213.3 449.4M218.4 452.7L215.4 451.7L213.3 449.4M230.6 441.7L224.0 442.5L218.4 444.3M214.0 441.9L214.4 442.3M219.6 455.4L218.4 452.7M207.7 446.8L207.5 447.5M210.2 450.3L209.4 448.4L207.5 447.5M210.2 450.3L211.9 450.9L213.3 449.4M217.2 456.5L214.1 455.2L210.2 453.2M210.2 453.2L210.2 450.3M145.3 382.9L146.4 380.8L146.8 379.8M145.3 382.9L147.9 383.1L148.9 383.7M148.9 383.7L148.4 381.2M146.8 379.8L148.4 381.2M146.6 379.1L144.4 378.5M142.7 378.8L144.4 378.5M143.8 383.9L145.3 382.9M146.6 379.1L146.8 379.8M149.0 383.8L148.9 383.7M151.7 380.0L152.8 382.4M151.7 380.0L149.2 380.4L148.4 381.2M148.9 376.9L147.8 377.5L146.6 379.1M150.8 376.3L148.9 376.9M150.8 376.3L151.1 376.3M151.1 376.3L151.6 376.5M151.7 380.0L150.7 378.7L151.6 376.5M150.8 376.3L149.0 374.6L147.6 372.2M151.1 376.3L150.5 373.7L151.3 371.2M147.5 370.1L147.6 370.0M147.6 372.2L147.5 370.1M151.3 371.2L149.4 370.0L147.6 370.0M143.8 364.2L145.3 366.1L147.9 368.8M144.5 370.5L146.4 370.7L147.5 370.1M147.9 368.8L147.6 370.0M185.4 446.6L185.9 444.6M185.4 446.6L182.5 445.4L179.3 445.0M179.7 439.0L178.6 441.3M179.7 439.0L181.4 438.8L183.4 438.4M179.3 445.0L178.9 443.8M178.6 441.3L178.9 443.8M185.9 444.6L185.8 442.3L183.4 438.4M147.4 401.3L144.7 401.1M147.4 401.3L149.1 398.7L151.3 398.9M151.3 395.7L152.2 396.5M151.3 398.9L152.2 396.5M155.5 387.1L156.2 387.4M156.2 387.4L157.5 388.6M152.2 396.5L154.1 395.8M157.5 388.6L156.4 392.8L154.1 395.8M184.2 421.4L184.2 421.6M184.2 421.4L182.6 420.5L180.4 419.1M177.2 426.1L180.4 423.5L184.2 421.6M177.2 426.1L176.4 423.9L176.8 421.4M176.8 421.4L179.0 420.2L180.4 419.1M143.8 408.1L144.4 409.1M139.4 414.1L141.9 411.9L144.4 410.0M144.4 409.1L144.4 410.0M147.4 401.3L148.5 404.1L149.0 406.4M144.4 409.1L147.4 407.4L149.0 406.4M143.1 420.7L145.3 415.8L147.6 412.7M144.4 410.0L147.0 412.1L147.6 412.7M154.5 404.7L152.9 401.2L151.3 398.9M154.5 404.7L153.7 406.4L152.4 407.5M149.0 406.4L151.9 406.4L152.4 407.5M205.0 471.5L202.5 473.0L201.7 474.0M205.0 471.5L207.7 475.1L210.2 477.4M215.6 520.1L207.5 499.0L200.4 479.1M200.4 479.1L201.2 477.3L201.7 474.0M178.9 443.8L176.1 444.7L173.7 446.5M178.6 441.3L175.1 442.3L173.3 442.6M173.3 442.6L174.1 444.9L173.7 446.5M184.8 427.8L185.4 426.9M185.4 426.9L189.0 428.8L192.0 430.6M184.8 427.8L186.0 430.7L188.1 434.5M192.0 430.6L190.2 432.7L188.1 434.5M184.0 437.9L186.2 437.7L187.4 437.0M184.0 437.9L184.3 433.8L182.5 429.3M182.5 429.3L184.8 427.8M188.1 434.5L187.4 437.0M176.8 429.6L176.3 429.1M176.8 429.6L176.8 432.2L177.0 436.0M176.3 429.1L174.2 428.7M177.0 436.0L174.5 436.4L172.7 436.8M174.2 428.7L174.0 428.7M174.0 428.7L171.6 431.1L169.2 433.0M172.7 436.8L171.3 436.8L169.4 435.0M169.4 435.0L169.2 433.0M177.2 426.1L177.2 427.7L176.3 429.1M185.8 424.5L185.0 423.7L184.2 421.6M182.5 429.3L179.4 429.1L176.8 429.6M185.4 426.9L185.8 424.5M179.7 439.0L177.7 437.5L177.0 436.0M184.0 437.9L183.4 438.4M171.1 441.8L171.2 441.8M171.1 441.8L172.7 439.4L172.7 436.8M171.2 441.8L173.3 442.6M165.6 430.5L165.4 430.5L165.9 427.3M166.7 426.9L165.9 427.3M165.6 430.5L166.7 431.2L169.2 433.0M170.6 427.1L172.6 427.9L174.0 428.7M168.0 441.1L170.6 441.6L171.1 441.8M167.2 437.1L167.5 436.1L169.4 435.0M162.2 432.8L163.0 431.4L165.6 430.5M165.1 426.8L162.6 426.7L159.3 427.7M165.1 426.8L163.8 424.7L162.4 422.1M159.3 427.7L160.8 425.9L162.4 422.1M162.4 422.1L162.4 422.1M158.9 428.7L159.0 427.9M159.0 427.9L159.3 427.7M165.9 427.3L165.1 426.8M166.9 420.3L168.2 422.1M166.9 420.3L165.7 422.3L162.4 422.1M159.6 420.0L157.8 423.1L156.2 424.5M159.6 420.0L159.1 418.3M159.1 418.3L155.6 418.1L151.7 418.4M156.2 424.5L153.3 423.8L150.5 424.7M151.7 418.4L149.1 419.9L148.4 423.4M148.4 423.4L149.8 424.5M149.8 424.5L150.5 424.7M162.4 422.1L160.7 421.4L159.6 420.0M159.0 427.9L157.5 426.0L156.2 424.5M155.7 430.8L152.9 428.0L150.5 424.7M145.0 423.3L146.9 423.7L148.4 423.4M150.5 434.4L151.0 429.8L149.8 424.5M146.9 375.5L144.9 376.0M146.9 375.5L146.2 373.9M146.2 373.9L145.7 373.9M145.7 373.9L144.9 375.9M144.9 375.9L144.9 376.0M144.4 378.5L144.9 376.0M148.9 376.9L146.9 375.5M147.6 372.2L146.2 373.9M143.8 373.4L145.7 373.9M142.9 374.1L144.9 375.9M213.9 470.1L213.0 467.3M205.0 471.5L204.8 469.0M204.8 469.0L209.1 467.9L213.0 467.3M221.8 465.9L217.7 466.2L213.7 465.2M213.7 465.2L213.0 467.3M153.0 382.5L154.9 380.5L156.7 379.7M151.6 376.5L154.4 376.0M156.7 379.7L154.8 377.9L154.8 376.1M154.4 376.0L154.8 376.1M156.2 387.4L156.9 383.9L158.3 380.8M156.7 379.7L158.0 380.3M158.0 380.3L158.3 380.8M144.8 362.6L146.7 363.1L148.7 364.3M151.9 355.8L152.1 358.6L152.7 362.2M152.7 362.2L150.7 363.5L148.7 364.3M147.9 368.8L149.4 367.3M148.7 364.3L149.0 365.1L149.4 367.3M124.1 450.5L122.4 451.6L121.3 452.4M124.1 450.5L126.1 450.6M126.1 450.6L126.4 450.8M126.4 450.8L124.3 450.9L122.5 454.2M122.5 454.2L121.2 453.0M121.2 453.0L121.3 452.4M119.7 446.7L121.5 448.1L124.1 450.5M119.7 446.7L120.5 450.4L121.3 452.4M118.5 444.6L119.7 446.7M123.5 441.8L124.8 445.7L126.1 450.6M128.2 451.6L126.4 450.8M123.4 456.1L122.5 454.2M115.7 454.5L118.8 453.4L121.2 453.0M162.7 379.0L161.7 378.2M161.7 378.2L159.8 379.0L159.7 380.5M162.7 379.0L162.2 380.2M162.2 380.2L159.7 380.5M157.5 388.6L158.4 388.6M158.7 380.9L160.2 383.3L163.4 384.8M158.3 380.8L158.7 380.9M158.4 388.6L160.7 386.3L163.4 384.8M162.2 380.2L162.8 382.5L163.4 384.8M159.7 380.5L158.7 380.9M163.4 384.8L163.4 384.8M187.1 391.0L184.9 389.9L183.8 389.4M180.3 379.1L180.2 379.1M180.2 379.1L180.0 381.4M183.8 389.4L182.1 385.3L180.0 381.4M171.7 378.7L170.7 380.2L168.6 382.5M171.7 378.7L171.1 376.1L169.5 372.7M168.6 382.5L165.4 380.7L164.7 378.6M169.0 372.7L166.4 374.2L164.7 376.4M169.0 372.7L169.5 372.7M164.7 376.4L164.7 378.6M180.2 379.1L175.7 378.6L171.7 378.7M175.3 365.3L172.5 369.4L169.5 372.7M168.1 384.6L166.1 384.6L163.4 384.8M168.1 384.6L168.6 382.5M162.7 379.0L164.7 378.6M154.1 395.8L156.0 396.1L157.8 397.6M157.8 397.6L158.8 396.8L160.6 396.3M158.4 388.6L160.3 391.5L162.6 392.6M160.6 396.3L161.5 394.4L162.6 392.6M183.8 389.4L180.0 389.7L177.9 391.4M180.0 381.4L176.5 385.4L173.1 389.0M177.9 391.4L175.7 391.1M173.1 389.0L174.0 389.9L175.7 391.1M188.9 415.3L186.3 412.9L183.5 409.6M183.5 409.6L181.5 410.9L179.2 412.4M184.2 421.4L186.7 418.0L188.9 415.3M180.4 419.1L179.3 417.0L179.2 415.6M179.2 415.6L179.3 414.1L179.2 412.4M175.7 421.2L175.9 419.9L174.2 418.0M175.7 421.2L174.0 421.3L172.7 422.3M172.7 422.3L172.1 422.0M172.1 422.0L172.3 419.4L171.5 417.3M174.2 418.0L172.0 417.2M171.5 417.3L172.0 417.2M179.2 415.6L176.1 417.0L174.2 418.0M176.8 421.4L175.7 421.2M174.2 428.7L173.2 424.7L172.7 422.3M170.2 422.5L172.1 422.0M167.9 416.0L169.2 417.4L171.5 417.3M167.9 416.0L167.6 417.7L166.9 420.3M151.5 416.7L153.5 415.5L156.4 412.0M151.5 416.7L150.0 414.9L149.2 412.9M149.2 412.9L151.5 411.0L152.6 409.2M156.4 412.0L153.8 410.8L152.6 409.2M151.7 418.4L151.5 416.7M161.2 412.8L158.3 412.9L156.4 412.0M161.2 412.8L159.6 415.3L159.1 418.3M147.6 412.7L149.2 412.9M152.4 407.5L152.6 409.2M178.7 447.9L179.3 445.0M178.7 447.9L180.4 449.4L182.1 449.9M185.4 446.6L185.6 447.1M185.6 447.1L184.2 448.3L182.1 449.9M194.7 471.9L197.7 473.3L201.7 474.0M194.7 471.9L193.9 472.7M200.4 479.1L197.8 476.5L194.1 475.0M194.1 475.0L193.9 472.7M194.1 475.0L188.9 484.7L184.2 495.1M170.5 474.1L176.2 475.5L181.8 477.6M184.2 495.1L182.6 487.0L181.8 477.6M159.2 482.1L157.4 482.2L154.7 482.1M159.2 482.1L159.2 510.5L159.8 539.8M154.7 482.1L153.1 486.3L152.2 492.5M161.6 479.2L160.3 479.9L159.2 482.1M163.8 479.5L161.6 479.2M130.2 498.9L137.2 491.2L143.9 483.6M143.9 483.6L149.7 500.8L155.4 517.7M162.1 472.8L160.9 471.0L159.9 469.0M159.9 469.0L158.6 469.6L156.7 470.8M160.9 478.0L158.3 476.3L155.2 474.1M160.9 478.0L161.5 475.0L162.1 472.8M156.7 470.8L155.8 473.0L155.2 474.1M159.9 469.0L160.3 468.1M159.5 466.2L160.3 468.1M156.0 464.7L155.0 465.2L152.8 465.5M156.7 470.8L154.8 468.4L152.8 465.5M150.0 459.8L150.2 461.9L149.5 464.6M149.5 464.6L151.2 465.0L152.8 465.5M152.2 492.5L151.0 489.6L150.4 487.1M154.7 482.1L152.5 481.0M150.4 487.1L151.3 483.0L152.5 481.0M164.4 467.5L165.5 470.1L166.3 471.1M164.4 467.5L166.0 465.0L167.1 463.1M168.7 463.3L171.1 467.4L171.8 470.4M168.7 463.3L167.1 463.1M166.3 471.1L168.0 472.2L170.0 473.4M171.8 470.4L170.8 472.3L170.0 473.4M162.1 472.8L164.4 472.0L166.3 471.1M160.3 468.1L161.9 469.1L164.4 467.5M164.9 460.9L166.0 461.4L167.1 463.1M176.5 464.1L174.9 462.2L173.7 460.7M176.6 464.3L176.5 464.1M176.4 468.6L175.6 465.8L176.6 464.3M176.4 468.6L174.0 469.9L171.8 470.4M173.7 460.7L173.7 460.7M173.7 460.7L171.7 462.3L168.7 463.3M161.6 479.2L160.9 478.0M170.1 473.6L170.0 473.4M181.8 477.6L182.2 475.8M178.3 469.9L181.0 472.4L182.2 475.8M176.4 468.6L178.3 469.9M171.2 441.8L171.1 445.8L169.6 447.2M173.7 446.5L173.4 447.5M173.4 447.5L170.6 446.6L169.6 447.2M194.1 428.9L199.0 429.7L201.4 430.2M194.1 428.9L192.3 430.6M196.4 435.2L195.9 435.3M192.3 430.6L193.2 432.2L193.5 433.4M195.9 435.3L194.1 434.0L193.5 433.4M192.0 430.6L192.3 430.6M187.4 437.0L189.1 437.7L190.1 438.5M193.5 433.4L191.9 435.8L190.1 438.5M196.1 409.9L194.7 409.7M196.1 409.9L198.7 412.2L201.1 415.1M194.7 409.7L193.6 412.1L192.0 415.4M201.1 415.1L200.9 416.2M192.0 415.4L192.4 415.9M192.4 415.9L196.6 416.5L200.8 416.2M200.9 416.2L200.8 416.2M202.1 407.9L200.0 407.7L196.1 409.9M198.5 399.4L194.3 401.5L191.8 402.9M191.8 402.9L193.9 405.4L194.7 409.7M204.1 411.0L202.7 412.6L201.1 415.1M207.4 421.3L203.9 418.8L200.9 416.2M184.7 404.9L187.1 403.2L189.6 402.6M184.7 404.9L182.3 403.6L179.3 401.2M179.3 401.2L180.4 399.9L180.5 397.5M180.5 397.5L184.0 395.6L187.1 391.8M187.1 391.8L188.1 396.7L189.6 402.6M188.9 415.3L190.2 415.4L192.0 415.4M183.5 409.6L183.9 407.7L184.7 404.9M191.8 402.9L189.6 402.6M187.2 391.2L187.1 391.8M177.9 391.4L179.1 394.7L180.5 397.5M185.8 424.5L188.4 423.8L189.9 423.9M192.4 415.9L192.9 417.7M192.9 417.7L191.2 420.2L189.9 423.9M194.1 428.9L194.6 427.3L193.3 425.5M193.3 425.5L191.9 424.3L189.9 423.9M204.8 469.0L204.5 468.6M204.5 468.6L205.6 466.7L206.7 463.7M213.7 465.2L213.3 463.9M206.7 463.7L210.2 463.8L213.3 463.9M210.2 453.2L208.6 454.4M217.2 456.5L216.3 459.0L213.6 460.5M208.6 454.4L208.6 454.7M208.6 454.7L209.5 457.2L211.0 459.6M211.0 459.6L213.6 460.5M213.6 460.5L213.1 463.1L213.3 463.9M207.5 447.5L206.2 448.0M208.6 454.4L206.6 454.1M206.2 448.0L205.9 449.8L204.5 451.2M204.5 451.2L204.8 452.1L206.6 454.1M200.2 441.4L200.0 442.2M200.2 441.4L196.8 440.0L192.7 439.3M200.0 442.2L196.9 442.7L192.5 445.0M192.7 439.3L191.5 439.6M191.5 439.6L191.3 442.6M191.3 442.6L192.5 445.0M206.2 448.0L204.3 447.1M204.3 447.1L202.1 445.3L200.1 443.3M200.3 441.2L200.2 441.4M200.1 443.3L200.0 442.2M195.9 435.3L194.4 437.0L192.7 439.3M190.1 438.5L191.5 439.6M185.9 444.6L189.7 444.0L191.3 442.6M211.0 459.6L208.6 459.8L208.0 459.9M208.6 454.7L207.7 456.7L206.9 458.2M206.9 458.2L208.0 459.9M206.7 463.7L206.3 461.9M208.0 459.9L206.3 461.9M151.3 371.2L153.4 370.1M149.4 367.3L150.4 366.8L153.6 366.9M153.4 370.1L153.4 369.0L153.6 366.9M154.4 376.0L154.0 373.6L154.5 371.3M153.4 370.1L154.5 371.3M152.7 362.2L153.7 363.8L154.7 365.5M154.7 365.5L153.6 366.9M159.5 354.1L159.5 359.8L160.3 365.7M154.7 365.5L158.0 364.6L160.3 365.7M165.5 394.0L164.1 392.6M165.5 394.0L167.9 394.2L169.3 394.6M164.1 392.6L166.6 389.4L168.9 385.9M169.3 394.6L170.7 391.9L172.8 389.0M168.9 385.9L170.4 388.0L172.8 389.0M160.6 396.3L163.1 397.5L163.5 398.4M164.9 397.6L163.5 398.4M164.9 397.6L165.9 396.7L165.5 394.0M162.6 392.6L164.1 392.6M167.0 398.6L168.3 396.6L169.5 395.1M164.9 397.6L167.0 398.6M169.5 395.1L169.3 394.6M168.1 384.6L168.9 385.9M173.1 389.0L172.8 389.0M171.7 397.3L173.4 396.4L175.2 394.8M171.7 397.3L175.1 398.9L177.8 401.5M175.2 394.8L175.9 398.5L178.7 401.2M177.8 401.5L178.7 401.2M169.5 395.1L171.4 397.3M171.4 397.3L171.7 397.3M175.7 391.1L175.3 392.9L175.2 394.8M171.4 400.7L171.2 397.9M171.4 397.3L171.2 397.9M174.5 403.9L173.2 402.1L171.4 400.7M174.5 403.9L176.3 402.9L177.8 401.5M179.3 401.2L178.7 401.2M174.1 404.4L172.2 405.3M174.1 404.4L175.7 408.3L177.7 412.0M172.2 405.3L173.1 407.9L172.3 411.3M172.3 411.3L174.0 411.4L176.2 412.2M177.7 412.0L176.2 412.2M174.5 403.9L174.1 404.4M179.2 412.4L177.7 412.0M166.3 413.1L168.8 413.2L172.3 411.3M167.9 416.0L167.2 414.0L166.3 413.1M172.0 417.2L174.0 414.8L176.2 412.2M172.2 405.3L169.9 405.7L168.0 405.5M166.3 413.1L164.8 412.0M168.0 405.5L166.7 409.2L164.8 412.0M157.8 397.6L158.7 400.9L159.7 403.2M163.5 398.4L162.9 400.2L163.0 402.0M163.0 402.0L161.5 400.9L159.7 403.2M154.5 404.7L156.7 404.4L159.0 404.3M161.2 412.8L162.2 412.1M162.2 412.1L161.3 408.1L159.0 404.3M162.2 412.1L164.8 412.0M159.0 404.3L159.7 403.2M199.9 467.2L202.0 467.4M204.5 468.6L202.0 467.4M194.7 471.9L195.6 470.9L196.2 468.8M199.9 467.2L197.6 467.9M197.6 467.9L196.2 468.8M176.6 464.3L180.7 464.8L183.0 464.5M178.3 469.9L181.0 467.2L183.3 465.3M183.0 464.5L183.3 465.3M150.6 475.1L148.2 471.5L146.1 468.3M150.6 475.1L150.2 475.8L149.7 478.1M149.7 478.1L147.5 479.8L145.3 481.2M146.0 468.3L142.6 473.6L138.3 478.4M146.0 468.3L146.1 468.3M138.3 478.4L140.6 480.4L144.3 481.4M144.3 481.4L145.3 481.2M155.2 474.1L153.8 474.4L150.6 475.1M149.5 464.6L147.7 465.7L146.1 468.3M152.5 481.0L150.4 479.6L149.7 478.1M150.4 487.1L148.1 484.8L145.3 481.2M141.0 466.0L143.9 467.3L146.0 468.3M138.3 478.4L138.3 478.4M143.9 483.6L144.3 481.4M178.7 447.9L177.8 448.7M173.4 447.5L174.5 448.8M177.8 448.7L176.6 449.2L174.5 448.8M177.5 453.8L175.6 454.3L174.4 454.3M178.9 458.5L178.6 457.2L177.5 453.8M173.7 460.7L176.0 458.7L178.9 458.5M173.7 460.7L173.2 458.3M173.2 458.3L173.9 455.5L174.4 454.3M177.8 448.7L178.0 450.9L178.3 453.2M174.5 448.8L173.8 451.2L173.2 452.5M177.5 453.8L178.3 453.2M174.4 454.3L173.2 452.5M168.8 447.7L169.3 449.6L169.7 451.9M168.8 447.7L165.6 446.1L163.4 446.1M163.4 446.1L162.7 446.8M162.7 446.8L163.7 451.3L165.1 455.2M169.7 451.9L169.0 452.7L166.7 454.8M165.1 455.2L166.7 454.8M173.2 452.5L171.6 452.6L169.7 451.9M169.6 447.2L168.8 447.7M163.6 444.4L163.4 446.1M159.5 447.6L161.4 447.8L162.7 446.8M164.1 456.6L165.1 455.2M173.2 458.3L169.0 456.6L166.7 454.8M194.9 423.9L194.7 422.1L193.9 418.9M194.9 423.9L196.8 423.7L199.0 423.3M193.9 418.9L196.3 419.6L198.4 420.7M199.0 423.3L198.4 420.7M192.9 417.7L193.9 418.9M193.3 425.5L194.9 423.9M202.6 426.1L200.7 425.3L199.0 423.3M200.8 416.2L200.2 418.1L198.4 420.7M199.0 463.2L201.2 461.6M199.0 463.2L199.2 464.6L199.9 467.2M202.0 467.4L202.5 465.7L202.4 462.4M201.2 461.6L201.3 461.6M202.4 462.4L201.3 461.6M204.5 451.2L203.3 451.6M203.3 451.6L202.2 453.3L202.7 455.1M206.6 454.1L204.7 456.0M204.7 456.0L202.7 455.1M158.0 380.3L159.5 378.0M161.7 378.2L161.5 377.9M161.5 377.9L159.5 378.0M169.0 372.7L166.2 372.6L163.2 370.4M167.6 363.6L165.1 365.1L161.4 366.2M163.2 370.4L161.6 368.5L161.4 366.2M160.3 365.7L160.3 365.7M161.4 366.2L160.3 365.7M165.4 402.7L167.5 404.5M165.4 402.7L165.9 401.7L167.1 398.9M167.5 404.5L168.5 402.7L169.1 401.3M169.1 401.3L168.7 399.6M167.1 398.9L168.7 399.6M168.0 405.5L167.5 404.5M163.0 402.0L165.4 402.7M167.0 398.6L167.1 398.9M171.4 400.7L169.1 401.3M171.2 397.9L168.7 399.6M184.5 466.4L187.4 464.5L190.5 462.5M184.5 466.4L185.4 469.8L186.9 471.1M187.9 471.0L186.9 471.1M187.9 471.0L189.3 466.8L191.3 463.3M191.3 463.3L191.2 462.8M191.2 462.8L190.5 462.5M182.2 475.8L184.2 473.5L186.9 471.1M183.3 465.3L184.5 466.4M193.9 472.7L191.1 471.8L187.9 471.0M196.2 468.8L193.6 465.6L191.3 463.3M187.5 458.8L187.6 460.5M187.5 458.8L185.2 457.8L184.4 456.3M187.6 460.5L186.1 460.2L183.5 461.6M184.4 456.3L183.7 457.7L181.7 459.3M183.5 461.6L182.0 459.9M182.0 459.9L181.7 459.3M190.5 462.5L188.8 461.1L187.6 460.5M183.0 464.5L183.5 461.6M176.5 464.1L178.9 462.5L182.0 459.9M178.9 458.5L180.8 458.7M180.8 458.7L181.7 459.3M183.1 454.3L183.3 453.4L185.4 452.3M183.1 454.3L180.9 453.6M180.9 453.6L180.8 453.5M180.8 453.5L182.0 453.4L182.2 450.7M182.2 450.7L183.7 452.1L185.4 452.3M188.0 453.6L185.8 452.2M185.8 452.2L185.4 452.3M184.4 456.2L186.9 454.4L188.0 453.6M184.4 456.2L183.1 454.3M184.4 456.2L184.4 456.3M180.8 458.7L180.2 456.2L180.9 453.6M178.3 453.2L180.8 453.5M182.1 449.9L182.2 450.7M185.6 447.1L185.8 447.3M185.8 447.3L186.0 450.2L185.8 452.2M202.0 451.4L200.0 451.6M202.0 451.4L201.8 448.4M201.8 448.4L199.4 447.7M199.7 451.4L200.0 451.6M199.7 451.4L199.8 449.6L199.1 448.3M199.4 447.7L199.1 448.3M200.0 453.9L200.0 451.6M201.5 455.5L200.0 453.9M203.3 451.6L202.0 451.4M201.5 455.5L202.7 455.1M204.3 447.1L201.8 448.4M199.4 445.1L200.1 443.3M199.4 445.1L199.4 447.7M206.9 458.2L205.3 457.7M204.7 456.0L204.7 456.9M205.3 457.7L204.7 456.9M161.7 376.8L159.1 376.2M161.7 376.8L162.4 375.3M162.4 375.3L162.3 375.1M162.3 375.1L160.4 376.0L159.0 376.1M159.0 376.1L159.1 376.2M161.5 377.9L161.7 376.8M159.5 378.0L159.1 376.2M164.7 376.4L162.4 375.3M161.8 372.7L163.2 370.4M161.8 372.7L162.3 375.1M154.8 376.1L155.6 375.6L157.7 374.9M157.7 374.9L159.0 376.1M156.7 371.1L157.6 370.5M156.7 371.1L157.0 372.9L157.7 374.8M157.6 370.5L158.3 371.4L159.5 373.3M157.7 374.8L159.5 373.3M154.5 371.3L156.7 371.1M160.3 365.7L159.1 367.5L157.6 370.5M157.7 374.9L157.7 374.8M161.8 372.7L159.5 373.3M187.5 458.8L188.7 457.2L189.6 455.0M192.6 461.6L192.6 460.7M192.6 461.6L191.2 462.8M192.6 460.7L190.9 458.8L191.0 455.4M189.6 455.0L191.0 455.4M188.0 453.6L188.8 453.7M189.6 455.0L188.8 453.7M197.6 467.9L197.3 466.3L195.8 462.0M199.0 463.2L198.8 463.0M198.8 463.0L197.2 463.6L195.8 462.0M192.6 461.6L195.3 461.5M195.8 462.0L195.3 461.5M206.3 461.9L205.6 461.6M205.3 457.7L204.6 459.3M204.6 459.3L205.6 461.6M202.4 462.4L203.8 461.7M205.6 461.6L203.8 461.7M201.3 460.1L202.9 459.7M201.3 460.1L201.0 459.6M201.0 459.6L202.6 457.9M202.9 459.7L203.2 459.3M203.2 459.3L202.7 457.9M202.7 457.9L202.6 457.9M201.3 461.6L201.3 460.1M203.8 461.7L202.9 459.7M204.6 459.3L203.2 459.3M204.7 456.9L202.7 457.9M201.5 455.5L201.1 456.6M201.1 456.6L202.6 457.9M201.0 459.6L200.4 459.2M201.1 456.6L201.1 456.7M200.4 459.2L201.1 456.7M185.8 447.3L187.0 447.9L189.5 448.4M188.8 453.7L189.8 451.3M189.5 448.4L189.8 451.3M191.0 455.4L191.5 455.3M191.5 455.3L192.9 454.0L194.0 451.5M194.0 451.5L194.0 451.5M189.8 451.3L192.3 451.7L194.0 451.5M194.2 455.7L194.7 457.2M194.2 455.7L195.6 454.5M195.6 454.5L196.8 456.3M196.8 456.3L196.0 457.6M196.0 457.6L194.7 457.2M192.6 460.7L194.5 458.9L194.7 457.2M191.5 455.3L194.2 455.7M194.0 451.5L196.0 453.7M196.0 453.7L195.6 454.5M196.7 460.0L195.3 461.5M196.6 458.2L196.7 459.7M196.7 460.0L196.7 459.7M196.6 458.2L196.0 457.6M197.8 460.1L199.0 460.9M197.8 460.1L199.4 458.9M200.3 459.2L199.4 458.9M200.3 459.2L199.2 460.8M199.2 460.8L199.0 460.9M198.8 463.0L199.0 460.9M196.7 460.0L197.8 460.1M196.7 459.7L198.9 458.0M198.9 458.0L199.4 458.9M201.2 461.6L199.2 460.8M200.4 459.2L200.3 459.2M198.3 457.1L198.7 457.4M198.3 457.1L197.9 456.4M198.7 457.4L199.9 456.8M199.9 456.8L198.7 454.9M197.9 456.4L198.3 455.0M198.7 454.9L198.3 455.0M196.6 458.2L198.3 457.1M198.9 458.0L198.7 457.4M196.8 456.3L197.9 456.4M201.1 456.7L199.9 456.8M200.0 453.9L198.7 454.9M196.0 453.7L196.0 453.6M196.0 453.6L198.3 455.0M198.4 451.7L196.5 451.5L196.0 453.6M199.7 451.4L198.4 451.7M192.5 445.8L194.4 446.2L195.3 447.0M192.5 445.8L191.9 446.8M191.9 446.8L192.8 449.3L194.2 450.8M195.3 447.0L196.3 448.8M194.2 450.8L195.8 449.8M196.3 448.8L195.8 449.8M192.5 445.0L192.5 445.8M199.4 445.1L197.2 446.3L195.3 447.0M189.5 448.4L191.9 446.8M194.0 451.5L194.2 450.8M199.1 448.3L196.3 448.8M198.4 451.7L196.6 450.8L195.8 449.8" fill="none" stroke="#fff" stroke-opacity="0.2" stroke-width="0.4"/></g>
<g transform="translate(667.50,0)" clip-path="url(#land)"><polygon points="154.4,295.3 157.2,298.8 159.0,300.7 162.2,302.6 164.1,306.3 164.1,310.7 165.3,316.4 167.2,322.0 168.8,327.7 170.4,333.3 172.9,339.0 176.6,340.9 181.7,342.8 186.1,345.3 189.2,349.0 191.7,354.1 195.5,357.2 197.4,358.5 195.5,360.4 196.1,364.1 198.6,369.1 200.9,372.7 202.8,376.1 199.6,375.2 195.9,373.7 193.3,372.9 190.8,373.4 187.7,373.7 185.2,373.3 185.2,374.4 190.8,374.6 193.5,374.2 196.0,375.6 197.1,377.7 200.3,380.2 203.4,383.3 205.9,387.1 208.0,391.5 208.0,395.3 205.9,398.4 203.4,401.6 202.1,403.4 204.6,404.7 206.5,406.6 209.0,406.6 210.9,404.1 212.2,401.8 215.3,400.9 220.4,400.7 225.4,400.9 230.4,402.2 234.2,404.1 237.3,406.6 239.8,410.4 241.1,415.4 240.7,420.7 239.4,425.1 238.6,429.4 236.7,433.2 233.5,436.4 230.4,437.6 232.3,439.5 231.0,442.0 228.5,445.2 225.4,445.8 224.1,447.0 221.6,447.7 224.1,448.9 223.5,452.1 221.0,453.9 217.8,455.8 215.3,457.1 212.8,457.7 209.0,457.1 214.1,458.5 217.8,459.2 222.2,459.6 225.4,460.9 230.4,460.2 236.1,460.0 236.7,462.1 235.4,465.3 235.4,467.8 232.9,470.9 229.1,472.8 226.6,475.3 226.0,477.2 222.9,477.8 218.5,479.7 214.1,481.6 210.9,483.5 208.4,484.7 205.9,483.5 202.8,482.2 199.6,481.0 197.1,481.6 194.0,482.8 190.2,483.5 186.4,483.8 183.9,485.1 182.0,483.5 179.5,482.8 177.0,483.5 174.5,482.8 172.0,481.6 170.1,480.3 170.7,482.8 167.6,484.7 165.1,486.6 161.9,487.2 159.4,487.9 156.3,489.1 155.0,491.0 152.5,490.4 150.5,489.6 146.7,490.9 145.5,492.8 144.2,490.9 141.7,488.4 137.9,486.5 132.9,485.9 127.9,486.5 124.1,487.8 121.0,490.3 119.1,493.4 117.8,495.9 118.8,499.1 116.6,501.6 115.3,504.1 112.2,504.7 109.7,502.8 105.9,501.6 102.8,500.3 100.9,499.1 97.1,500.3 92.7,500.3 88.9,501.0 86.4,503.5 83.3,506.0 80.8,509.1 79.5,511.6 77.0,512.6 75.8,509.7 73.2,507.9 70.1,507.2 68.2,509.7 66.1,509.1 66.3,506.0 68.8,504.1 72.0,503.5 75.1,501.6 78.3,498.4 80.8,495.3 83.3,492.2 86.4,490.3 90.2,487.8 93.3,484.6 95.9,481.5 96.5,478.3 95.9,474.9 98.4,475.2 100.9,474.6 103.4,472.1 102.8,469.5 104.6,467.9 109.0,467.4 114.1,467.0 119.1,467.9 122.9,468.9 126.6,468.7 130.4,467.7 132.3,465.2 134.2,462.0 136.7,459.5 139.2,456.4 140.5,453.2 138.6,453.8 135.4,456.4 132.3,458.9 129.1,460.1 125.4,460.8 121.0,460.1 117.2,458.2 114.1,455.7 111.6,453.2 107.8,453.8 104.0,454.5 102.1,452.6 104.0,450.7 102.1,449.4 99.6,446.9 95.2,447.6 91.5,448.2 87.7,450.7 84.5,451.3 83.3,448.2 80.2,446.3 80.8,443.2 78.9,441.3 81.4,439.4 83.9,436.9 87.7,435.6 90.2,435.4 93.9,433.5 97.7,431.6 101.5,429.7 104.6,427.2 107.1,424.0 108.4,420.3 109.6,417.1 107.7,415.3 107.5,412.1 107.7,407.7 106.5,404.6 103.3,403.9 100.2,404.6 97.7,405.8 94.5,407.1 93.7,405.8 95.8,403.3 98.9,401.4 101.5,398.9 103.3,396.4 102.1,394.5 100.2,392.0 97.7,389.5 95.2,388.2 97.7,387.0 98.9,384.5 102.7,384.1 105.2,385.1 107.1,387.6 109.0,388.2 109.6,390.1 112.1,389.5 114.6,388.2 117.2,389.5 120.3,388.9 124.1,388.2 126.6,387.6 128.8,386.4 130.4,385.1 132.9,386.6 135.4,387.7 138.5,388.5 136.0,386.4 134.1,385.1 132.2,382.6 131.0,379.4 132.2,376.9 135.4,374.4 134.1,373.2 132.2,371.3 132.4,368.5 132.9,366.6 134.5,363.5 136.4,360.4 137.7,357.2 135.2,356.6 132.0,354.7 130.2,357.2 128.3,359.1 127.0,354.7 124.5,350.3 122.6,346.5 120.1,343.4 121.4,339.6 123.9,335.2 125.1,330.2 128.3,327.7 130.8,327.7 132.7,325.2 135.8,322.0 140.2,317.6 144.0,313.2 148.4,311.4 151.5,308.2 150.9,304.4 149.0,301.9 152.8,297.5" fill="#a5d6c4"/><polygon points="166.3,487.9 170.1,486.0 173.2,485.1 176.4,486.6 177.0,487.9 175.1,489.7 172.6,491.6 170.1,490.4 167.6,489.1" fill="#a5d6c4"/><circle cx="92.5" cy="468.3" r="0.45" fill="#a5d6c4"/><circle cx="50.8" cy="513.1" r="0.5" fill="#a5d6c4"/><polygon points="148.4,368.8 150.2,365.7 152.8,365.7 154.3,368.8 152.8,372.6 150.2,373.6 148.4,372.0" fill="#d6eee3"/><polygon points="173.5,391.5 174.7,387.1 177.9,383.9 179.8,382.0 181.6,385.2 182.9,388.9 182.9,392.1 179.1,392.1 176.0,392.5" fill="#d6eee3"/><polygon points="193.6,390.2 194.8,386.4 197.3,383.3 200.5,381.4 203.6,382.0 206.1,385.8 207.8,390.2 208.0,394.0 205.5,397.1 203.0,398.4 199.9,399.6 197.3,397.1 194.8,394.0" fill="#d6eee3"/><polygon points="153.4,417.8 154.6,414.7 157.1,413.4 158.0,416.0 156.8,419.1 155.3,421.0 153.4,420.4" fill="#d6eee3"/><polygon points="199.7,448.9 202.2,447.0 205.4,447.6 207.2,445.1 209.1,447.0 211.0,449.5 211.0,452.7 208.5,453.3 206.0,451.4 202.9,451.4 200.3,450.8" fill="#d6eee3"/><polygon points="224.8,440.7 228.0,438.2 231.1,437.6 231.7,440.7 229.2,443.2 226.1,444.5" fill="#d6eee3"/><polygon points="215.4,453.3 219.2,451.4 222.3,450.8 223.0,453.3 219.8,454.5 216.0,455.2" fill="#d6eee3"/><polygon points="199.1,464.0 202.2,463.0 203.5,465.9 203.1,469.6 199.7,470.0 198.8,467.1" fill="#d6eee3"/><polygon points="212.9,456.4 216.0,455.8 216.4,457.7 213.5,458.3" fill="#d6eee3"/><polygon points="186.5,456.4 189.0,455.8 189.7,457.7 187.1,457.9" fill="#d6eee3"/><polygon points="191.5,450.2 193.1,449.6 193.4,451.4 191.8,451.7" fill="#d6eee3"/><polygon points="160.9,323.9 164.1,323.3 164.7,325.8 162.2,327.1" fill="#6eeab8"/><polygon points="173.9,362.6 175.4,361.1 177.9,361.6 178.8,364.4 177.9,367.0 175.4,367.6 173.9,365.7" fill="#6eeab8"/><polygon points="148.4,382.0 150.2,380.8 151.5,383.3 150.9,386.4 149.0,386.4" fill="#6eeab8"/><polygon points="132.9,383.6 134.8,382.2 136.9,384.0 137.6,386.6 135.6,385.9 134.0,384.9" fill="#6eeab8"/><polygon points="139.4,457.7 141.9,457.1 144.4,459.6 147.6,459.6 148.6,462.1 146.3,464.6 143.2,464.6 140.7,462.7" fill="#6eeab8"/><polygon points="194.1,454.5 196.6,451.4 199.7,451.2 202.2,453.3 204.1,456.4 202.9,459.6 199.7,460.8 196.6,461.5 194.1,458.9" fill="#6eeab8"/><polygon points="197.8,480.3 201.0,480.1 201.3,481.8 198.5,481.8" fill="#6eeab8"/><polygon points="171.4,445.8 174.0,445.1 174.6,447.0 172.1,447.6" fill="#6eeab8"/><polygon points="203.5,429.4 205.4,428.8 206.0,430.7 204.1,431.3" fill="#6eeab8"/><polygon points="199.3,456.3 200.7,455.9 201.1,458.2 200.2,459.5 199.1,458.6" fill="#22ad83"/><polygon points="200.2,453.9 201.1,453.8 201.2,455.0 200.3,455.2" fill="#22ad83"/><path d="M74.3 406.1L94.5 402.0L115.5 399.4M88.3 416.1L105.0 413.2L119.7 409.7M115.5 399.4L117.3 401.0L119.5 403.4M119.7 409.7L119.5 406.1L119.5 403.4M115.5 399.4L117.7 389.9L118.6 381.2M120.5 411.2L119.7 409.7M120.5 411.2L117.4 418.2L115.1 426.4M115.1 426.4L111.7 426.9L108.0 427.9M92.2 419.8L100.0 424.1L108.0 427.9M92.2 419.8L93.0 428.6L93.8 436.7M78.1 469.5L85.5 452.5L93.8 436.7M108.0 427.9L108.8 435.2L109.2 442.1M93.8 436.7L99.5 442.6L102.7 449.1M109.2 442.1L106.1 444.7L102.7 449.1M98.6 459.3L100.1 453.7L102.7 449.1M228.6 472.6L229.4 464.5L230.8 456.4M239.7 416.6L234.8 423.2L228.8 428.5M228.8 428.5L231.8 435.8L237.7 442.2M118.6 381.2L126.0 388.8L132.6 396.2M119.5 403.4L126.2 400.9L132.0 399.1M132.6 396.2L132.0 399.1M101.3 481.8L97.4 480.7L94.3 480.3M101.3 481.8L107.9 480.4L112.8 479.1M112.8 479.1L114.0 473.1L116.3 466.5M161.6 327.6L151.8 326.6L142.6 324.0M137.8 348.8L140.7 340.6L145.3 331.3M142.6 324.0L144.2 328.1L145.3 331.3M239.7 416.6L237.1 416.7L236.3 415.2M236.3 415.2L231.7 415.2L225.4 417.0M228.8 428.5L227.8 427.8M227.8 427.8L226.3 422.3L225.4 417.0M227.8 427.8L222.6 428.2L216.2 429.0M225.1 416.7L225.4 417.0M225.1 416.7L218.6 419.5L213.4 422.1M213.4 422.1L214.7 425.2L216.2 429.0M228.6 472.6L225.3 471.7L221.9 471.2M227.4 457.3L224.6 461.9L221.8 465.9M221.8 465.9L222.2 468.6L221.9 471.2M145.5 392.5L147.1 393.8L149.0 395.2M145.5 392.5L143.2 392.9M149.0 395.2L146.0 395.4L143.3 396.6M143.2 392.9L142.1 395.2M143.3 396.6L142.1 395.2M141.9 388.2L140.0 388.1L137.3 387.8M137.3 387.8L134.7 391.0L132.8 396.1M141.9 388.2L142.6 390.8L143.2 392.9M132.8 396.1L137.8 395.9L142.1 395.2M132.6 396.2L132.8 396.1M132.0 399.1L133.6 401.9L134.6 403.3M134.6 403.3L138.5 402.7L144.6 401.1M144.6 401.1L143.7 398.9L143.3 396.6M126.3 467.6L125.1 462.0L123.4 456.2M112.1 460.8L118.1 458.4L123.4 456.2M109.2 442.1L112.3 443.5L116.3 444.9M116.3 444.9L116.3 449.7L115.7 454.5M112.1 460.8L113.7 457.7L115.7 454.5M126.0 477.8L128.5 482.1L130.6 484.9M130.6 484.9L135.2 481.2L138.3 478.4M128.6 466.9L131.5 467.6L132.6 468.2M126.4 467.7L126.0 473.6L126.0 477.8M132.6 468.2L135.1 472.8L138.3 478.4M129.7 417.5L132.4 414.3L136.5 412.5M125.4 412.7L126.8 415.5L129.7 417.5M125.4 412.7L129.1 408.9L134.3 406.4M136.5 412.5L135.1 409.0L134.3 406.4M120.5 411.2L122.6 412.0L125.4 412.7M134.6 403.3L134.7 403.8M134.3 406.4L134.7 403.8M144.7 401.1L144.6 401.1M144.7 401.1L144.3 404.9L143.8 408.1M134.7 403.8L139.2 405.6L143.8 408.1M143.6 425.5L145.0 430.9L146.4 434.7M138.4 429.1L141.4 427.3L143.6 425.5M138.4 429.1L138.5 432.4L138.4 437.4M138.4 437.4L142.7 436.1L146.4 434.7M160.1 437.4L161.3 436.3M160.1 437.4L162.1 441.4L163.6 444.4M163.6 444.4L166.1 442.9L168.0 441.1M168.0 441.1L168.2 438.4L167.2 437.1M167.2 437.1L164.1 437.1L161.3 436.3M133.0 426.8L129.4 430.3L125.5 434.5M133.0 426.8L133.5 424.3L131.8 421.9M130.1 420.5L131.8 421.9M130.1 420.5L123.6 423.3L116.7 427.0M116.7 427.0L121.5 430.9L125.5 434.5M126.9 438.4L128.0 438.8M128.0 438.8L133.1 438.2L138.1 438.0M138.4 437.4L138.1 438.0M138.4 429.1L136.5 428.2L133.0 426.8M126.9 438.4L125.5 435.8L125.5 434.5M115.1 426.4L116.7 427.0M129.7 417.5L129.6 419.1L130.1 420.5M314.4 271.8L246.1 312.6L176.9 353.3M170.8 350.9L174.0 352.6L176.9 353.3M170.8 350.9L170.7 348.2L170.6 345.0M170.6 345.0L176.9 338.0L183.3 331.7M219.8 411.8L223.6 401.5L228.3 389.4M219.8 411.8L222.0 414.4L224.9 416.1M224.9 416.1L226.8 410.1L229.5 402.4M228.3 389.4L227.6 395.6L229.5 402.4M236.3 415.2L233.2 408.7L229.5 402.4M225.1 416.7L224.9 416.1M219.8 411.8L215.2 412.8L212.3 411.1M212.7 400.3L212.7 405.8L212.3 411.1M117.7 377.1L125.8 380.1L134.8 382.1M137.3 387.8L136.8 385.9L135.3 382.5M134.8 382.1L135.3 382.5M137.9 372.0L137.7 373.0L139.4 374.7M111.9 367.8L124.3 369.6L137.9 372.0M134.8 382.1L137.8 378.8L139.4 374.7M137.8 348.8L138.7 350.3L138.8 352.3M151.6 339.6L149.0 346.3L145.7 353.5M145.3 331.3L148.9 335.5L151.6 339.6M138.8 352.3L142.1 352.6L145.7 353.5M138.8 352.3L134.3 355.6L130.5 358.9M137.9 372.0L140.6 368.9L140.9 368.4M143.8 373.4L142.9 374.1M142.9 374.1L140.1 375.0M139.4 374.7L140.1 375.0M143.8 373.4L144.5 370.5M140.9 368.4L143.0 369.5L144.5 370.5M130.5 358.9L135.4 361.7L141.2 365.8M140.9 368.4L141.2 365.8M237.7 442.2L234.5 442.3L230.6 441.7M216.2 429.0L215.2 431.3M215.2 431.3L214.9 433.9M230.6 441.7L223.0 438.8L214.9 433.9M148.6 386.6L147.0 387.0L143.8 386.2M148.6 386.6L149.9 388.2M147.1 390.4L149.3 389.7M147.1 390.4L144.5 388.8L142.8 387.5M142.8 387.5L143.8 386.2M149.3 389.7L149.9 388.2M151.3 395.7L149.0 395.2M151.3 395.7L150.2 392.8L149.3 389.7M145.5 392.5L147.1 390.4M141.9 388.2L142.8 387.5M135.3 382.5L138.7 382.1L141.6 381.3M140.1 375.0L141.8 377.9L142.7 378.8M142.7 378.8L141.6 381.3M143.8 386.2L143.8 383.9M143.8 383.9L143.5 382.8L141.6 381.3M155.5 387.1L152.9 388.0L149.9 388.2M148.6 386.6L149.0 383.8M155.5 387.1L154.5 385.4L153.0 382.5M153.0 382.5L152.8 382.4M152.8 382.4L151.2 383.6L149.0 383.8M128.6 466.9L131.0 461.2L132.3 457.2M141.0 466.0L136.2 466.5L132.6 468.2M132.3 457.2L133.9 456.6L135.3 455.9M141.0 466.0L141.2 462.2L140.1 458.4M140.1 458.4L137.9 456.8L135.3 455.9M128.0 438.8L129.2 443.3L131.2 446.5M131.2 446.5L134.7 447.3L137.4 449.4M138.1 438.0L139.8 442.2L142.4 446.0M137.4 449.4L140.1 448.5L142.4 446.0M126.9 438.4L125.0 440.2L123.5 441.8M116.3 444.9L118.5 444.6M118.5 444.6L120.2 443.2L123.5 441.8M131.2 446.5L129.3 448.2L128.2 451.6M135.3 455.9L136.5 452.5L137.4 449.4M132.3 457.2L130.5 455.5L129.3 454.5M129.3 454.5L128.9 452.5L128.2 451.6M123.4 456.2L123.4 456.1M129.3 454.5L125.5 454.7L123.4 456.1M129.7 491.7L122.0 486.8L114.9 480.4M114.8 480.4L114.9 480.4M114.8 480.4L116.4 491.1L117.1 501.6M130.6 484.9L129.8 488.1L129.7 491.7M126.0 477.8L120.5 479.7L114.9 480.4M112.8 479.1L114.8 480.4M101.3 481.8L108.9 491.6L117.1 501.6M220.8 362.9L200.8 365.4L180.8 368.0M176.9 353.3L176.5 359.0L176.3 365.0M180.8 368.0L178.1 366.6L176.3 365.0M131.8 421.9L136.3 421.2L141.0 419.1M136.5 412.5L138.0 413.1L139.4 414.1M141.0 419.1L140.5 416.3L139.4 414.1M143.6 425.5L145.0 423.3M145.0 423.3L143.2 422.1L143.1 420.7M141.0 419.1L143.1 420.7M176.3 493.4L173.6 484.5L170.5 474.1M176.3 493.4L170.7 486.6L163.8 479.5M170.5 474.1L170.1 473.6M163.8 479.5L167.1 476.4L170.1 473.6M157.7 460.9L158.9 462.0L161.0 462.5M157.7 460.9L155.7 458.1L155.2 455.4M155.2 455.4L155.3 455.2M155.3 455.2L158.9 455.2L164.1 456.6M164.1 456.6L164.2 459.3L164.9 460.9M164.9 460.9L163.4 461.4L161.0 462.5M159.5 466.2L160.5 465.1L161.0 462.5M156.0 464.7L156.8 465.0L159.5 466.2M156.0 464.7L156.5 462.7L157.7 460.9M150.5 434.4L149.8 435.6M150.5 434.4L152.1 433.0L155.4 431.7M149.8 435.6L150.4 437.0M150.4 437.0L152.2 438.4L155.5 439.2M155.4 431.7L158.3 435.5L160.1 437.4M160.1 437.4L158.9 438.7L156.2 439.1M156.2 439.1L155.5 439.2M146.4 445.1L144.6 446.6M146.4 445.1L150.7 444.4L153.8 444.6M153.8 444.6L155.1 445.8L157.4 448.8M144.6 446.6L145.2 447.9M145.2 447.9L150.0 449.7L155.0 453.2M155.0 453.2L156.8 451.4L157.4 448.8M150.4 437.0L148.6 440.1L146.4 445.1M146.4 434.7L148.5 435.2L149.8 435.6M142.4 446.0L144.6 446.6M155.5 439.2L154.7 441.6L153.8 444.6M159.5 447.6L157.4 448.8M159.5 447.6L158.5 444.3L156.2 439.1M140.1 458.4L143.1 457.9L144.6 456.4M144.6 456.4L145.1 452.3L145.2 447.9M155.3 455.2L155.0 453.2M150.0 459.8L152.8 457.1L155.2 455.4M150.0 459.8L147.4 458.9L144.6 456.4M168.2 422.1L170.2 422.5M170.2 422.5L169.6 424.4L170.6 427.1M168.2 422.1L166.6 424.2L166.7 426.9M166.7 426.9L169.0 426.6L170.6 427.1M161.3 436.3L162.2 434.3L162.2 432.8M155.7 430.8L157.2 429.2L158.9 428.7M155.4 431.7L155.7 430.8M160.1 437.4L160.1 437.4M162.2 432.8L160.9 429.5L158.9 428.7M169.6 343.4L169.3 341.4L170.4 339.7M169.6 343.4L168.2 341.7L166.1 341.1M170.4 339.7L168.2 339.0L167.4 339.0M166.1 341.1L167.4 339.0M170.6 345.0L169.6 343.4M172.5 336.8L171.1 336.9L170.4 339.7M172.5 336.8L169.4 336.9L167.6 336.7M167.6 336.7L167.4 339.0M163.0 334.7L164.9 334.9L167.2 336.3M163.0 334.7L163.6 333.2L163.2 331.4M167.2 336.3L168.1 333.8L169.8 331.9M163.2 331.4L165.9 332.1L169.8 331.9M158.4 341.5L160.5 336.7L163.0 334.7M158.4 341.5L162.5 340.9L166.1 341.1M167.6 336.7L167.2 336.3M158.1 341.7L158.4 341.5M161.6 327.6L161.9 329.3L163.2 331.4M151.6 339.6L154.2 340.1L158.1 341.7M189.3 327.7L180.0 329.4L169.8 331.9M215.2 431.3L208.0 430.0L202.0 429.3M213.2 434.4L214.8 434.0M213.2 434.4L209.2 433.9L206.7 434.4M214.9 433.9L214.8 434.0M202.0 429.3L201.5 430.2M206.7 434.4L204.0 431.8L201.5 430.2M213.2 434.4L209.1 436.7L205.3 439.3M206.7 434.4L205.8 436.8L205.3 439.3M213.5 442.1L214.0 441.9M214.8 434.0L213.6 438.1L214.0 441.9M213.5 442.1L208.9 440.3L204.9 439.8M205.3 439.3L204.9 439.8M213.4 422.1L211.3 420.4M212.3 411.1L211.7 411.9M211.7 411.9L210.9 415.6L211.3 420.4M202.0 429.3L203.0 427.9L202.6 426.1M202.6 426.1L205.6 423.8L207.4 421.3M211.3 420.4L209.7 420.1L207.4 421.3M198.4 393.9L192.1 392.7L187.2 391.2M198.4 393.9L203.6 383.0L210.7 371.9M210.7 371.9L202.3 375.6L194.1 380.3M194.1 380.3L190.5 385.6L187.1 391.0M187.1 391.0L187.2 391.2M180.3 379.1L180.9 373.0L180.8 368.0M180.3 379.1L187.5 379.7L194.1 380.3M212.7 400.3L207.4 401.0L202.6 401.7M204.1 411.0L208.0 411.4L211.7 411.9M204.1 411.0L203.7 409.8L202.1 407.9M202.1 407.9L203.3 405.2L202.6 401.7M198.4 393.9L198.9 397.4L198.5 399.4M202.6 401.7L200.5 401.0L198.5 399.4M170.8 350.9L167.6 352.8L163.2 352.2M176.3 365.0L175.3 365.3M175.3 365.3L171.9 364.1L167.6 363.6M167.6 363.6L165.7 357.8L163.2 352.2M158.1 341.7L159.6 347.3L162.0 352.0M163.2 352.2L162.0 352.0M141.2 365.8L142.9 364.9L143.8 364.2M143.8 364.2L144.8 362.6M145.7 353.5L145.9 353.8M144.8 362.6L146.1 357.2L145.9 353.8M159.5 354.1L160.5 352.7L162.0 352.0M159.5 354.1L155.5 353.9L151.9 355.8M145.9 353.8L149.0 354.0L151.9 355.8M213.9 470.1L216.8 470.8L220.7 472.4M220.7 472.4L218.4 485.0L214.9 497.9M213.9 470.1L211.6 473.8L210.2 477.4M210.2 477.4L211.7 487.9L214.9 497.9M221.9 471.2L220.7 472.4M204.9 439.8L204.3 440.0M213.5 442.1L210.9 444.5L207.7 446.8M207.7 446.8L206.2 444.2L204.3 440.0M201.4 430.2L201.4 430.2M201.4 430.2L201.6 435.8L202.4 439.9M201.5 430.2L201.4 430.2M204.3 440.0L202.4 439.9M196.4 435.2L199.0 432.6L201.4 430.2M196.4 435.2L198.1 438.2L200.3 441.2M202.4 439.9L200.3 441.2M218.4 444.3L216.3 443.4L214.4 442.3M218.4 444.3L218.8 448.6L218.4 452.7M214.4 442.3L214.2 445.8L213.3 449.4M218.4 452.7L215.4 451.7L213.3 449.4M230.6 441.7L224.0 442.5L218.4 444.3M214.0 441.9L214.4 442.3M219.6 455.4L218.4 452.7M207.7 446.8L207.5 447.5M210.2 450.3L209.4 448.4L207.5 447.5M210.2 450.3L211.9 450.9L213.3 449.4M217.2 456.5L214.1 455.2L210.2 453.2M210.2 453.2L210.2 450.3M145.3 382.9L146.4 380.8L146.8 379.8M145.3 382.9L147.9 383.1L148.9 383.7M148.9 383.7L148.4 381.2M146.8 379.8L148.4 381.2M146.6 379.1L144.4 378.5M142.7 378.8L144.4 378.5M143.8 383.9L145.3 382.9M146.6 379.1L146.8 379.8M149.0 383.8L148.9 383.7M151.7 380.0L152.8 382.4M151.7 380.0L149.2 380.4L148.4 381.2M148.9 376.9L147.8 377.5L146.6 379.1M150.8 376.3L148.9 376.9M150.8 376.3L151.1 376.3M151.1 376.3L151.6 376.5M151.7 380.0L150.7 378.7L151.6 376.5M150.8 376.3L149.0 374.6L147.6 372.2M151.1 376.3L150.5 373.7L151.3 371.2M147.5 370.1L147.6 370.0M147.6 372.2L147.5 370.1M151.3 371.2L149.4 370.0L147.6 370.0M143.8 364.2L145.3 366.1L147.9 368.8M144.5 370.5L146.4 370.7L147.5 370.1M147.9 368.8L147.6 370.0M185.4 446.6L185.9 444.6M185.4 446.6L182.5 445.4L179.3 445.0M179.7 439.0L178.6 441.3M179.7 439.0L181.4 438.8L183.4 438.4M179.3 445.0L178.9 443.8M178.6 441.3L178.9 443.8M185.9 444.6L185.8 442.3L183.4 438.4M147.4 401.3L144.7 401.1M147.4 401.3L149.1 398.7L151.3 398.9M151.3 395.7L152.2 396.5M151.3 398.9L152.2 396.5M155.5 387.1L156.2 387.4M156.2 387.4L157.5 388.6M152.2 396.5L154.1 395.8M157.5 388.6L156.4 392.8L154.1 395.8M184.2 421.4L184.2 421.6M184.2 421.4L182.6 420.5L180.4 419.1M177.2 426.1L180.4 423.5L184.2 421.6M177.2 426.1L176.4 423.9L176.8 421.4M176.8 421.4L179.0 420.2L180.4 419.1M143.8 408.1L144.4 409.1M139.4 414.1L141.9 411.9L144.4 410.0M144.4 409.1L144.4 410.0M147.4 401.3L148.5 404.1L149.0 406.4M144.4 409.1L147.4 407.4L149.0 406.4M143.1 420.7L145.3 415.8L147.6 412.7M144.4 410.0L147.0 412.1L147.6 412.7M154.5 404.7L152.9 401.2L151.3 398.9M154.5 404.7L153.7 406.4L152.4 407.5M149.0 406.4L151.9 406.4L152.4 407.5M205.0 471.5L202.5 473.0L201.7 474.0M205.0 471.5L207.7 475.1L210.2 477.4M215.6 520.1L207.5 499.0L200.4 479.1M200.4 479.1L201.2 477.3L201.7 474.0M178.9 443.8L176.1 444.7L173.7 446.5M178.6 441.3L175.1 442.3L173.3 442.6M173.3 442.6L174.1 444.9L173.7 446.5M184.8 427.8L185.4 426.9M185.4 426.9L189.0 428.8L192.0 430.6M184.8 427.8L186.0 430.7L188.1 434.5M192.0 430.6L190.2 432.7L188.1 434.5M184.0 437.9L186.2 437.7L187.4 437.0M184.0 437.9L184.3 433.8L182.5 429.3M182.5 429.3L184.8 427.8M188.1 434.5L187.4 437.0M176.8 429.6L176.3 429.1M176.8 429.6L176.8 432.2L177.0 436.0M176.3 429.1L174.2 428.7M177.0 436.0L174.5 436.4L172.7 436.8M174.2 428.7L174.0 428.7M174.0 428.7L171.6 431.1L169.2 433.0M172.7 436.8L171.3 436.8L169.4 435.0M169.4 435.0L169.2 433.0M177.2 426.1L177.2 427.7L176.3 429.1M185.8 424.5L185.0 423.7L184.2 421.6M182.5 429.3L179.4 429.1L176.8 429.6M185.4 426.9L185.8 424.5M179.7 439.0L177.7 437.5L177.0 436.0M184.0 437.9L183.4 438.4M171.1 441.8L171.2 441.8M171.1 441.8L172.7 439.4L172.7 436.8M171.2 441.8L173.3 442.6M165.6 430.5L165.4 430.5L165.9 427.3M166.7 426.9L165.9 427.3M165.6 430.5L166.7 431.2L169.2 433.0M170.6 427.1L172.6 427.9L174.0 428.7M168.0 441.1L170.6 441.6L171.1 441.8M167.2 437.1L167.5 436.1L169.4 435.0M162.2 432.8L163.0 431.4L165.6 430.5M165.1 426.8L162.6 426.7L159.3 427.7M165.1 426.8L163.8 424.7L162.4 422.1M159.3 427.7L160.8 425.9L162.4 422.1M162.4 422.1L162.4 422.1M158.9 428.7L159.0 427.9M159.0 427.9L159.3 427.7M165.9 427.3L165.1 426.8M166.9 420.3L168.2 422.1M166.9 420.3L165.7 422.3L162.4 422.1M159.6 420.0L157.8 423.1L156.2 424.5M159.6 420.0L159.1 418.3M159.1 418.3L155.6 418.1L151.7 418.4M156.2 424.5L153.3 423.8L150.5 424.7M151.7 418.4L149.1 419.9L148.4 423.4M148.4 423.4L149.8 424.5M149.8 424.5L150.5 424.7M162.4 422.1L160.7 421.4L159.6 420.0M159.0 427.9L157.5 426.0L156.2 424.5M155.7 430.8L152.9 428.0L150.5 424.7M145.0 423.3L146.9 423.7L148.4 423.4M150.5 434.4L151.0 429.8L149.8 424.5M146.9 375.5L144.9 376.0M146.9 375.5L146.2 373.9M146.2 373.9L145.7 373.9M145.7 373.9L144.9 375.9M144.9 375.9L144.9 376.0M144.4 378.5L144.9 376.0M148.9 376.9L146.9 375.5M147.6 372.2L146.2 373.9M143.8 373.4L145.7 373.9M142.9 374.1L144.9 375.9M213.9 470.1L213.0 467.3M205.0 471.5L204.8 469.0M204.8 469.0L209.1 467.9L213.0 467.3M221.8 465.9L217.7 466.2L213.7 465.2M213.7 465.2L213.0 467.3M153.0 382.5L154.9 380.5L156.7 379.7M151.6 376.5L154.4 376.0M156.7 379.7L154.8 377.9L154.8 376.1M154.4 376.0L154.8 376.1M156.2 387.4L156.9 383.9L158.3 380.8M156.7 379.7L158.0 380.3M158.0 380.3L158.3 380.8M144.8 362.6L146.7 363.1L148.7 364.3M151.9 355.8L152.1 358.6L152.7 362.2M152.7 362.2L150.7 363.5L148.7 364.3M147.9 368.8L149.4 367.3M148.7 364.3L149.0 365.1L149.4 367.3M124.1 450.5L122.4 451.6L121.3 452.4M124.1 450.5L126.1 450.6M126.1 450.6L126.4 450.8M126.4 450.8L124.3 450.9L122.5 454.2M122.5 454.2L121.2 453.0M121.2 453.0L121.3 452.4M119.7 446.7L121.5 448.1L124.1 450.5M119.7 446.7L120.5 450.4L121.3 452.4M118.5 444.6L119.7 446.7M123.5 441.8L124.8 445.7L126.1 450.6M128.2 451.6L126.4 450.8M123.4 456.1L122.5 454.2M115.7 454.5L118.8 453.4L121.2 453.0M162.7 379.0L161.7 378.2M161.7 378.2L159.8 379.0L159.7 380.5M162.7 379.0L162.2 380.2M162.2 380.2L159.7 380.5M157.5 388.6L158.4 388.6M158.7 380.9L160.2 383.3L163.4 384.8M158.3 380.8L158.7 380.9M158.4 388.6L160.7 386.3L163.4 384.8M162.2 380.2L162.8 382.5L163.4 384.8M159.7 380.5L158.7 380.9M163.4 384.8L163.4 384.8M187.1 391.0L184.9 389.9L183.8 389.4M180.3 379.1L180.2 379.1M180.2 379.1L180.0 381.4M183.8 389.4L182.1 385.3L180.0 381.4M171.7 378.7L170.7 380.2L168.6 382.5M171.7 378.7L171.1 376.1L169.5 372.7M168.6 382.5L165.4 380.7L164.7 378.6M169.0 372.7L166.4 374.2L164.7 376.4M169.0 372.7L169.5 372.7M164.7 376.4L164.7 378.6M180.2 379.1L175.7 378.6L171.7 378.7M175.3 365.3L172.5 369.4L169.5 372.7M168.1 384.6L166.1 384.6L163.4 384.8M168.1 384.6L168.6 382.5M162.7 379.0L164.7 378.6M154.1 395.8L156.0 396.1L157.8 397.6M157.8 397.6L158.8 396.8L160.6 396.3M158.4 388.6L160.3 391.5L162.6 392.6M160.6 396.3L161.5 394.4L162.6 392.6M183.8 389.4L180.0 389.7L177.9 391.4M180.0 381.4L176.5 385.4L173.1 389.0M177.9 391.4L175.7 391.1M173.1 389.0L174.0 389.9L175.7 391.1M188.9 415.3L186.3 412.9L183.5 409.6M183.5 409.6L181.5 410.9L179.2 412.4M184.2 421.4L186.7 418.0L188.9 415.3M180.4 419.1L179.3 417.0L179.2 415.6M179.2 415.6L179.3 414.1L179.2 412.4M175.7 421.2L175.9 419.9L174.2 418.0M175.7 421.2L174.0 421.3L172.7 422.3M172.7 422.3L172.1 422.0M172.1 422.0L172.3 419.4L171.5 417.3M174.2 418.0L172.0 417.2M171.5 417.3L172.0 417.2M179.2 415.6L176.1 417.0L174.2 418.0M176.8 421.4L175.7 421.2M174.2 428.7L173.2 424.7L172.7 422.3M170.2 422.5L172.1 422.0M167.9 416.0L169.2 417.4L171.5 417.3M167.9 416.0L167.6 417.7L166.9 420.3M151.5 416.7L153.5 415.5L156.4 412.0M151.5 416.7L150.0 414.9L149.2 412.9M149.2 412.9L151.5 411.0L152.6 409.2M156.4 412.0L153.8 410.8L152.6 409.2M151.7 418.4L151.5 416.7M161.2 412.8L158.3 412.9L156.4 412.0M161.2 412.8L159.6 415.3L159.1 418.3M147.6 412.7L149.2 412.9M152.4 407.5L152.6 409.2M178.7 447.9L179.3 445.0M178.7 447.9L180.4 449.4L182.1 449.9M185.4 446.6L185.6 447.1M185.6 447.1L184.2 448.3L182.1 449.9M194.7 471.9L197.7 473.3L201.7 474.0M194.7 471.9L193.9 472.7M200.4 479.1L197.8 476.5L194.1 475.0M194.1 475.0L193.9 472.7M194.1 475.0L188.9 484.7L184.2 495.1M170.5 474.1L176.2 475.5L181.8 477.6M184.2 495.1L182.6 487.0L181.8 477.6M159.2 482.1L157.4 482.2L154.7 482.1M159.2 482.1L159.2 510.5L159.8 539.8M154.7 482.1L153.1 486.3L152.2 492.5M161.6 479.2L160.3 479.9L159.2 482.1M163.8 479.5L161.6 479.2M130.2 498.9L137.2 491.2L143.9 483.6M143.9 483.6L149.7 500.8L155.4 517.7M162.1 472.8L160.9 471.0L159.9 469.0M159.9 469.0L158.6 469.6L156.7 470.8M160.9 478.0L158.3 476.3L155.2 474.1M160.9 478.0L161.5 475.0L162.1 472.8M156.7 470.8L155.8 473.0L155.2 474.1M159.9 469.0L160.3 468.1M159.5 466.2L160.3 468.1M156.0 464.7L155.0 465.2L152.8 465.5M156.7 470.8L154.8 468.4L152.8 465.5M150.0 459.8L150.2 461.9L149.5 464.6M149.5 464.6L151.2 465.0L152.8 465.5M152.2 492.5L151.0 489.6L150.4 487.1M154.7 482.1L152.5 481.0M150.4 487.1L151.3 483.0L152.5 481.0M164.4 467.5L165.5 470.1L166.3 471.1M164.4 467.5L166.0 465.0L167.1 463.1M168.7 463.3L171.1 467.4L171.8 470.4M168.7 463.3L167.1 463.1M166.3 471.1L168.0 472.2L170.0 473.4M171.8 470.4L170.8 472.3L170.0 473.4M162.1 472.8L164.4 472.0L166.3 471.1M160.3 468.1L161.9 469.1L164.4 467.5M164.9 460.9L166.0 461.4L167.1 463.1M176.5 464.1L174.9 462.2L173.7 460.7M176.6 464.3L176.5 464.1M176.4 468.6L175.6 465.8L176.6 464.3M176.4 468.6L174.0 469.9L171.8 470.4M173.7 460.7L173.7 460.7M173.7 460.7L171.7 462.3L168.7 463.3M161.6 479.2L160.9 478.0M170.1 473.6L170.0 473.4M181.8 477.6L182.2 475.8M178.3 469.9L181.0 472.4L182.2 475.8M176.4 468.6L178.3 469.9M171.2 441.8L171.1 445.8L169.6 447.2M173.7 446.5L173.4 447.5M173.4 447.5L170.6 446.6L169.6 447.2M194.1 428.9L199.0 429.7L201.4 430.2M194.1 428.9L192.3 430.6M196.4 435.2L195.9 435.3M192.3 430.6L193.2 432.2L193.5 433.4M195.9 435.3L194.1 434.0L193.5 433.4M192.0 430.6L192.3 430.6M187.4 437.0L189.1 437.7L190.1 438.5M193.5 433.4L191.9 435.8L190.1 438.5M196.1 409.9L194.7 409.7M196.1 409.9L198.7 412.2L201.1 415.1M194.7 409.7L193.6 412.1L192.0 415.4M201.1 415.1L200.9 416.2M192.0 415.4L192.4 415.9M192.4 415.9L196.6 416.5L200.8 416.2M200.9 416.2L200.8 416.2M202.1 407.9L200.0 407.7L196.1 409.9M198.5 399.4L194.3 401.5L191.8 402.9M191.8 402.9L193.9 405.4L194.7 409.7M204.1 411.0L202.7 412.6L201.1 415.1M207.4 421.3L203.9 418.8L200.9 416.2M184.7 404.9L187.1 403.2L189.6 402.6M184.7 404.9L182.3 403.6L179.3 401.2M179.3 401.2L180.4 399.9L180.5 397.5M180.5 397.5L184.0 395.6L187.1 391.8M187.1 391.8L188.1 396.7L189.6 402.6M188.9 415.3L190.2 415.4L192.0 415.4M183.5 409.6L183.9 407.7L184.7 404.9M191.8 402.9L189.6 402.6M187.2 391.2L187.1 391.8M177.9 391.4L179.1 394.7L180.5 397.5M185.8 424.5L188.4 423.8L189.9 423.9M192.4 415.9L192.9 417.7M192.9 417.7L191.2 420.2L189.9 423.9M194.1 428.9L194.6 427.3L193.3 425.5M193.3 425.5L191.9 424.3L189.9 423.9M204.8 469.0L204.5 468.6M204.5 468.6L205.6 466.7L206.7 463.7M213.7 465.2L213.3 463.9M206.7 463.7L210.2 463.8L213.3 463.9M210.2 453.2L208.6 454.4M217.2 456.5L216.3 459.0L213.6 460.5M208.6 454.4L208.6 454.7M208.6 454.7L209.5 457.2L211.0 459.6M211.0 459.6L213.6 460.5M213.6 460.5L213.1 463.1L213.3 463.9M207.5 447.5L206.2 448.0M208.6 454.4L206.6 454.1M206.2 448.0L205.9 449.8L204.5 451.2M204.5 451.2L204.8 452.1L206.6 454.1M200.2 441.4L200.0 442.2M200.2 441.4L196.8 440.0L192.7 439.3M200.0 442.2L196.9 442.7L192.5 445.0M192.7 439.3L191.5 439.6M191.5 439.6L191.3 442.6M191.3 442.6L192.5 445.0M206.2 448.0L204.3 447.1M204.3 447.1L202.1 445.3L200.1 443.3M200.3 441.2L200.2 441.4M200.1 443.3L200.0 442.2M195.9 435.3L194.4 437.0L192.7 439.3M190.1 438.5L191.5 439.6M185.9 444.6L189.7 444.0L191.3 442.6M211.0 459.6L208.6 459.8L208.0 459.9M208.6 454.7L207.7 456.7L206.9 458.2M206.9 458.2L208.0 459.9M206.7 463.7L206.3 461.9M208.0 459.9L206.3 461.9M151.3 371.2L153.4 370.1M149.4 367.3L150.4 366.8L153.6 366.9M153.4 370.1L153.4 369.0L153.6 366.9M154.4 376.0L154.0 373.6L154.5 371.3M153.4 370.1L154.5 371.3M152.7 362.2L153.7 363.8L154.7 365.5M154.7 365.5L153.6 366.9M159.5 354.1L159.5 359.8L160.3 365.7M154.7 365.5L158.0 364.6L160.3 365.7M165.5 394.0L164.1 392.6M165.5 394.0L167.9 394.2L169.3 394.6M164.1 392.6L166.6 389.4L168.9 385.9M169.3 394.6L170.7 391.9L172.8 389.0M168.9 385.9L170.4 388.0L172.8 389.0M160.6 396.3L163.1 397.5L163.5 398.4M164.9 397.6L163.5 398.4M164.9 397.6L165.9 396.7L165.5 394.0M162.6 392.6L164.1 392.6M167.0 398.6L168.3 396.6L169.5 395.1M164.9 397.6L167.0 398.6M169.5 395.1L169.3 394.6M168.1 384.6L168.9 385.9M173.1 389.0L172.8 389.0M171.7 397.3L173.4 396.4L175.2 394.8M171.7 397.3L175.1 398.9L177.8 401.5M175.2 394.8L175.9 398.5L178.7 401.2M177.8 401.5L178.7 401.2M169.5 395.1L171.4 397.3M171.4 397.3L171.7 397.3M175.7 391.1L175.3 392.9L175.2 394.8M171.4 400.7L171.2 397.9M171.4 397.3L171.2 397.9M174.5 403.9L173.2 402.1L171.4 400.7M174.5 403.9L176.3 402.9L177.8 401.5M179.3 401.2L178.7 401.2M174.1 404.4L172.2 405.3M174.1 404.4L175.7 408.3L177.7 412.0M172.2 405.3L173.1 407.9L172.3 411.3M172.3 411.3L174.0 411.4L176.2 412.2M177.7 412.0L176.2 412.2M174.5 403.9L174.1 404.4M179.2 412.4L177.7 412.0M166.3 413.1L168.8 413.2L172.3 411.3M167.9 416.0L167.2 414.0L166.3 413.1M172.0 417.2L174.0 414.8L176.2 412.2M172.2 405.3L169.9 405.7L168.0 405.5M166.3 413.1L164.8 412.0M168.0 405.5L166.7 409.2L164.8 412.0M157.8 397.6L158.7 400.9L159.7 403.2M163.5 398.4L162.9 400.2L163.0 402.0M163.0 402.0L161.5 400.9L159.7 403.2M154.5 404.7L156.7 404.4L159.0 404.3M161.2 412.8L162.2 412.1M162.2 412.1L161.3 408.1L159.0 404.3M162.2 412.1L164.8 412.0M159.0 404.3L159.7 403.2M199.9 467.2L202.0 467.4M204.5 468.6L202.0 467.4M194.7 471.9L195.6 470.9L196.2 468.8M199.9 467.2L197.6 467.9M197.6 467.9L196.2 468.8M176.6 464.3L180.7 464.8L183.0 464.5M178.3 469.9L181.0 467.2L183.3 465.3M183.0 464.5L183.3 465.3M150.6 475.1L148.2 471.5L146.1 468.3M150.6 475.1L150.2 475.8L149.7 478.1M149.7 478.1L147.5 479.8L145.3 481.2M146.0 468.3L142.6 473.6L138.3 478.4M146.0 468.3L146.1 468.3M138.3 478.4L140.6 480.4L144.3 481.4M144.3 481.4L145.3 481.2M155.2 474.1L153.8 474.4L150.6 475.1M149.5 464.6L147.7 465.7L146.1 468.3M152.5 481.0L150.4 479.6L149.7 478.1M150.4 487.1L148.1 484.8L145.3 481.2M141.0 466.0L143.9 467.3L146.0 468.3M138.3 478.4L138.3 478.4M143.9 483.6L144.3 481.4M178.7 447.9L177.8 448.7M173.4 447.5L174.5 448.8M177.8 448.7L176.6 449.2L174.5 448.8M177.5 453.8L175.6 454.3L174.4 454.3M178.9 458.5L178.6 457.2L177.5 453.8M173.7 460.7L176.0 458.7L178.9 458.5M173.7 460.7L173.2 458.3M173.2 458.3L173.9 455.5L174.4 454.3M177.8 448.7L178.0 450.9L178.3 453.2M174.5 448.8L173.8 451.2L173.2 452.5M177.5 453.8L178.3 453.2M174.4 454.3L173.2 452.5M168.8 447.7L169.3 449.6L169.7 451.9M168.8 447.7L165.6 446.1L163.4 446.1M163.4 446.1L162.7 446.8M162.7 446.8L163.7 451.3L165.1 455.2M169.7 451.9L169.0 452.7L166.7 454.8M165.1 455.2L166.7 454.8M173.2 452.5L171.6 452.6L169.7 451.9M169.6 447.2L168.8 447.7M163.6 444.4L163.4 446.1M159.5 447.6L161.4 447.8L162.7 446.8M164.1 456.6L165.1 455.2M173.2 458.3L169.0 456.6L166.7 454.8M194.9 423.9L194.7 422.1L193.9 418.9M194.9 423.9L196.8 423.7L199.0 423.3M193.9 418.9L196.3 419.6L198.4 420.7M199.0 423.3L198.4 420.7M192.9 417.7L193.9 418.9M193.3 425.5L194.9 423.9M202.6 426.1L200.7 425.3L199.0 423.3M200.8 416.2L200.2 418.1L198.4 420.7M199.0 463.2L201.2 461.6M199.0 463.2L199.2 464.6L199.9 467.2M202.0 467.4L202.5 465.7L202.4 462.4M201.2 461.6L201.3 461.6M202.4 462.4L201.3 461.6M204.5 451.2L203.3 451.6M203.3 451.6L202.2 453.3L202.7 455.1M206.6 454.1L204.7 456.0M204.7 456.0L202.7 455.1M158.0 380.3L159.5 378.0M161.7 378.2L161.5 377.9M161.5 377.9L159.5 378.0M169.0 372.7L166.2 372.6L163.2 370.4M167.6 363.6L165.1 365.1L161.4 366.2M163.2 370.4L161.6 368.5L161.4 366.2M160.3 365.7L160.3 365.7M161.4 366.2L160.3 365.7M165.4 402.7L167.5 404.5M165.4 402.7L165.9 401.7L167.1 398.9M167.5 404.5L168.5 402.7L169.1 401.3M169.1 401.3L168.7 399.6M167.1 398.9L168.7 399.6M168.0 405.5L167.5 404.5M163.0 402.0L165.4 402.7M167.0 398.6L167.1 398.9M171.4 400.7L169.1 401.3M171.2 397.9L168.7 399.6M184.5 466.4L187.4 464.5L190.5 462.5M184.5 466.4L185.4 469.8L186.9 471.1M187.9 471.0L186.9 471.1M187.9 471.0L189.3 466.8L191.3 463.3M191.3 463.3L191.2 462.8M191.2 462.8L190.5 462.5M182.2 475.8L184.2 473.5L186.9 471.1M183.3 465.3L184.5 466.4M193.9 472.7L191.1 471.8L187.9 471.0M196.2 468.8L193.6 465.6L191.3 463.3M187.5 458.8L187.6 460.5M187.5 458.8L185.2 457.8L184.4 456.3M187.6 460.5L186.1 460.2L183.5 461.6M184.4 456.3L183.7 457.7L181.7 459.3M183.5 461.6L182.0 459.9M182.0 459.9L181.7 459.3M190.5 462.5L188.8 461.1L187.6 460.5M183.0 464.5L183.5 461.6M176.5 464.1L178.9 462.5L182.0 459.9M178.9 458.5L180.8 458.7M180.8 458.7L181.7 459.3M183.1 454.3L183.3 453.4L185.4 452.3M183.1 454.3L180.9 453.6M180.9 453.6L180.8 453.5M180.8 453.5L182.0 453.4L182.2 450.7M182.2 450.7L183.7 452.1L185.4 452.3M188.0 453.6L185.8 452.2M185.8 452.2L185.4 452.3M184.4 456.2L186.9 454.4L188.0 453.6M184.4 456.2L183.1 454.3M184.4 456.2L184.4 456.3M180.8 458.7L180.2 456.2L180.9 453.6M178.3 453.2L180.8 453.5M182.1 449.9L182.2 450.7M185.6 447.1L185.8 447.3M185.8 447.3L186.0 450.2L185.8 452.2M202.0 451.4L200.0 451.6M202.0 451.4L201.8 448.4M201.8 448.4L199.4 447.7M199.7 451.4L200.0 451.6M199.7 451.4L199.8 449.6L199.1 448.3M199.4 447.7L199.1 448.3M200.0 453.9L200.0 451.6M201.5 455.5L200.0 453.9M203.3 451.6L202.0 451.4M201.5 455.5L202.7 455.1M204.3 447.1L201.8 448.4M199.4 445.1L200.1 443.3M199.4 445.1L199.4 447.7M206.9 458.2L205.3 457.7M204.7 456.0L204.7 456.9M205.3 457.7L204.7 456.9M161.7 376.8L159.1 376.2M161.7 376.8L162.4 375.3M162.4 375.3L162.3 375.1M162.3 375.1L160.4 376.0L159.0 376.1M159.0 376.1L159.1 376.2M161.5 377.9L161.7 376.8M159.5 378.0L159.1 376.2M164.7 376.4L162.4 375.3M161.8 372.7L163.2 370.4M161.8 372.7L162.3 375.1M154.8 376.1L155.6 375.6L157.7 374.9M157.7 374.9L159.0 376.1M156.7 371.1L157.6 370.5M156.7 371.1L157.0 372.9L157.7 374.8M157.6 370.5L158.3 371.4L159.5 373.3M157.7 374.8L159.5 373.3M154.5 371.3L156.7 371.1M160.3 365.7L159.1 367.5L157.6 370.5M157.7 374.9L157.7 374.8M161.8 372.7L159.5 373.3M187.5 458.8L188.7 457.2L189.6 455.0M192.6 461.6L192.6 460.7M192.6 461.6L191.2 462.8M192.6 460.7L190.9 458.8L191.0 455.4M189.6 455.0L191.0 455.4M188.0 453.6L188.8 453.7M189.6 455.0L188.8 453.7M197.6 467.9L197.3 466.3L195.8 462.0M199.0 463.2L198.8 463.0M198.8 463.0L197.2 463.6L195.8 462.0M192.6 461.6L195.3 461.5M195.8 462.0L195.3 461.5M206.3 461.9L205.6 461.6M205.3 457.7L204.6 459.3M204.6 459.3L205.6 461.6M202.4 462.4L203.8 461.7M205.6 461.6L203.8 461.7M201.3 460.1L202.9 459.7M201.3 460.1L201.0 459.6M201.0 459.6L202.6 457.9M202.9 459.7L203.2 459.3M203.2 459.3L202.7 457.9M202.7 457.9L202.6 457.9M201.3 461.6L201.3 460.1M203.8 461.7L202.9 459.7M204.6 459.3L203.2 459.3M204.7 456.9L202.7 457.9M201.5 455.5L201.1 456.6M201.1 456.6L202.6 457.9M201.0 459.6L200.4 459.2M201.1 456.6L201.1 456.7M200.4 459.2L201.1 456.7M185.8 447.3L187.0 447.9L189.5 448.4M188.8 453.7L189.8 451.3M189.5 448.4L189.8 451.3M191.0 455.4L191.5 455.3M191.5 455.3L192.9 454.0L194.0 451.5M194.0 451.5L194.0 451.5M189.8 451.3L192.3 451.7L194.0 451.5M194.2 455.7L194.7 457.2M194.2 455.7L195.6 454.5M195.6 454.5L196.8 456.3M196.8 456.3L196.0 457.6M196.0 457.6L194.7 457.2M192.6 460.7L194.5 458.9L194.7 457.2M191.5 455.3L194.2 455.7M194.0 451.5L196.0 453.7M196.0 453.7L195.6 454.5M196.7 460.0L195.3 461.5M196.6 458.2L196.7 459.7M196.7 460.0L196.7 459.7M196.6 458.2L196.0 457.6M197.8 460.1L199.0 460.9M197.8 460.1L199.4 458.9M200.3 459.2L199.4 458.9M200.3 459.2L199.2 460.8M199.2 460.8L199.0 460.9M198.8 463.0L199.0 460.9M196.7 460.0L197.8 460.1M196.7 459.7L198.9 458.0M198.9 458.0L199.4 458.9M201.2 461.6L199.2 460.8M200.4 459.2L200.3 459.2M198.3 457.1L198.7 457.4M198.3 457.1L197.9 456.4M198.7 457.4L199.9 456.8M199.9 456.8L198.7 454.9M197.9 456.4L198.3 455.0M198.7 454.9L198.3 455.0M196.6 458.2L198.3 457.1M198.9 458.0L198.7 457.4M196.8 456.3L197.9 456.4M201.1 456.7L199.9 456.8M200.0 453.9L198.7 454.9M196.0 453.7L196.0 453.6M196.0 453.6L198.3 455.0M198.4 451.7L196.5 451.5L196.0 453.6M199.7 451.4L198.4 451.7M192.5 445.8L194.4 446.2L195.3 447.0M192.5 445.8L191.9 446.8M191.9 446.8L192.8 449.3L194.2 450.8M195.3 447.0L196.3 448.8M194.2 450.8L195.8 449.8M196.3 448.8L195.8 449.8M192.5 445.0L192.5 445.8M199.4 445.1L197.2 446.3L195.3 447.0M189.5 448.4L191.9 446.8M194.0 451.5L194.2 450.8M199.1 448.3L196.3 448.8M198.4 451.7L196.6 450.8L195.8 449.8" fill="none" stroke="#fff" stroke-opacity="0.16" stroke-width="0.4"/></g>
</svg>
<div class="rule"></div>
<svg class="bbc" width="74" height="21" viewBox="0 0 74 21">
<rect x="0" y="0" width="21.7" height="20.8" fill="#222"/><rect x="25.8" y="0" width="21.7" height="20.8" fill="#222"/><rect x="51.7" y="0" width="21.7" height="20.8" fill="#222"/>
<g fill="#fff" font-family="Liberation Sans, Arial, sans-serif" font-weight="normal" font-size="19.2" stroke="#fff" stroke-width="0.7" text-anchor="middle"><text x="10.85" y="16.9">B</text><text x="36.65" y="16.9">B</text><text x="62.55" y="16.9">C</text></g>
</svg>
</body></html>
